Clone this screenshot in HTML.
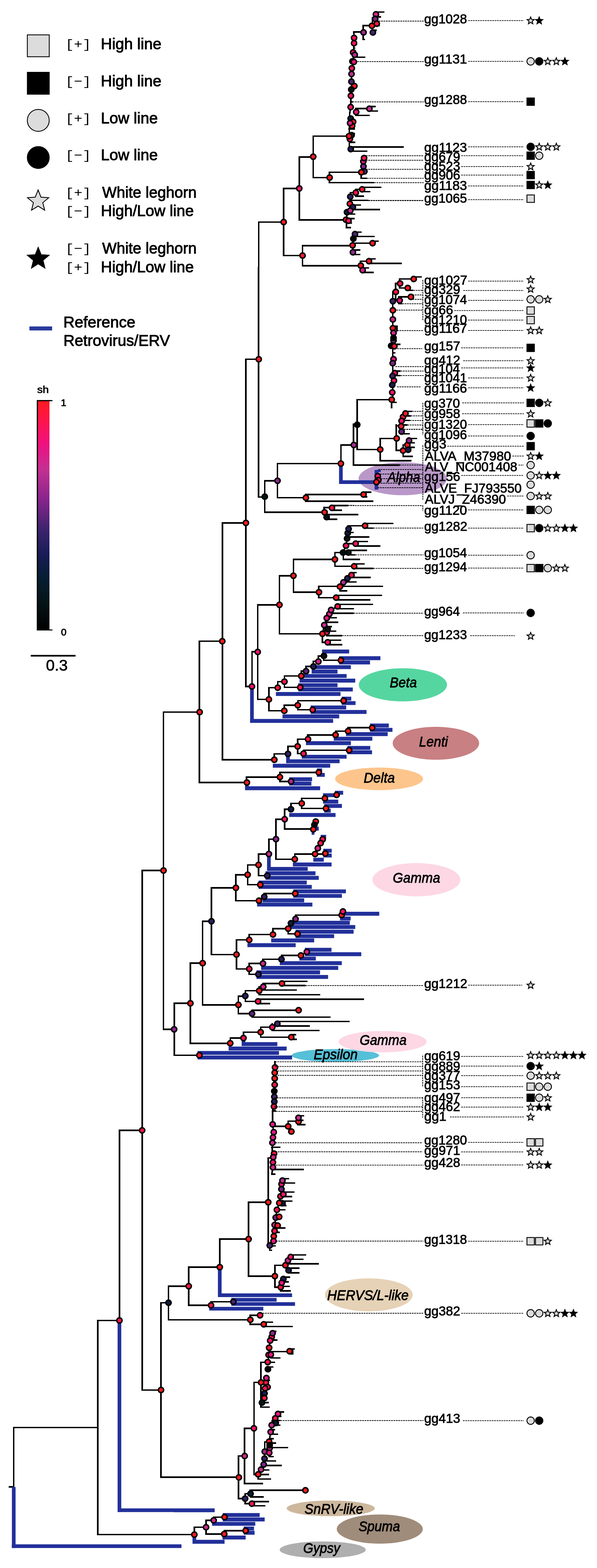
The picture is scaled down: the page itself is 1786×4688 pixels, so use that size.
<!DOCTYPE html>
<html lang="en"><head><meta charset="utf-8"><title>Phylogenetic tree</title>
<style>
html,body{margin:0;padding:0;background:#fff}
body{width:1786px;height:4688px;overflow:hidden}
svg{display:block}
text{font-family:"Liberation Sans",sans-serif;fill:#000}
.leg{font-size:45.8px;stroke:#000;stroke-width:1.4px;stroke-linejoin:round}
.big{font-size:46.5px;stroke:#000;stroke-width:1px;stroke-linejoin:round}
.mono{font-family:"Liberation Mono",monospace;font-size:37.5px}
.sm{font-size:29.5px;stroke:#000;stroke-width:1.2px;stroke-linejoin:round}
.lab{font-size:38.5px;stroke:#000;stroke-width:1.2px;stroke-linejoin:round}
.cl{font-size:43px;font-style:italic;stroke:#000;stroke-width:1.3px;stroke-linejoin:round}
</style></head><body>
<svg width="1786" height="4688" viewBox="0 0 1786 4688">
<defs><linearGradient id="sh" x1="0" y1="0" x2="0" y2="1">
<stop offset="0" stop-color="rgb(255,26,30)"/>
<stop offset="0.09" stop-color="rgb(255,20,75)"/>
<stop offset="0.19" stop-color="rgb(240,16,128)"/>
<stop offset="0.3" stop-color="rgb(196,48,146)"/>
<stop offset="0.44" stop-color="rgb(132,36,140)"/>
<stop offset="0.56" stop-color="rgb(62,36,110)"/>
<stop offset="0.67" stop-color="rgb(24,28,86)"/>
<stop offset="0.77" stop-color="rgb(6,30,52)"/>
<stop offset="0.88" stop-color="rgb(5,20,22)"/>
<stop offset="1" stop-color="rgb(0,0,0)"/>
</linearGradient></defs>
<rect width="1786" height="4688" fill="#fff"/>
<g id="legend">
<rect x="81.8" y="104.2" width="65.5" height="65.5" fill="#dcdcdc" stroke="#000" stroke-width="2.5"/>
<rect x="81.8" y="216.2" width="65.5" height="65.5" fill="#000" stroke="#000" stroke-width="2.5"/>
<circle cx="114.5" cy="360.0" r="32.8" fill="#dcdcdc" stroke="#000" stroke-width="2.5"/>
<circle cx="114.5" cy="471.0" r="32.8" fill="#000" stroke="#000" stroke-width="2.5"/>
<polygon points="114.0,568.0 122.6,589.5 145.8,591.1 128.0,605.9 133.6,628.4 114.0,616.1 94.4,628.4 100.0,605.9 82.2,591.1 105.4,589.5" fill="#dcdcdc" stroke="#000" stroke-width="2.5" stroke-linejoin="miter"/>
<polygon points="114.3,739.5 123.1,761.5 146.8,763.1 128.6,778.4 134.4,801.4 114.3,788.7 94.2,801.4 100.0,778.4 81.8,763.1 105.5,761.5" fill="#000" stroke="#000" stroke-width="2.5" stroke-linejoin="miter"/>
<text class="leg" transform="translate(301.6 147.3) scale(1.017 1)">High line</text>
<text class="leg" transform="translate(301.6 258.0) scale(1.017 1)">High line</text>
<text class="leg" transform="translate(301.7 368.6) scale(1.014 1)">Low line</text>
<text class="leg" transform="translate(301.7 479.2) scale(1.014 1)">Low line</text>
<text class="leg" transform="translate(305.7 591.1) scale(1.000 1)">White leghorn</text>
<text class="leg" transform="translate(301.7 646.0) scale(1.011 1)">High/Low line</text>
<text class="leg" transform="translate(305.7 758.0) scale(1.000 1)">White leghorn</text>
<text class="leg" transform="translate(301.7 813.6) scale(1.011 1)">High/Low line</text>
<text class="leg" transform="translate(189.6 979.2) scale(1.020 1)">Reference</text>
<text class="leg" transform="translate(189.7 1034.1) scale(1.013 1)">Retrovirus/ERV</text>
<text class="mono" transform="translate(195.4 144.3) scale(1.143 1)">[+]</text>
<text class="mono" transform="translate(195.4 255.0) scale(1.143 1)">[−]</text>
<text class="mono" transform="translate(195.4 365.6) scale(1.143 1)">[+]</text>
<text class="mono" transform="translate(195.4 476.2) scale(1.143 1)">[−]</text>
<text class="mono" transform="translate(195.4 588.1) scale(1.143 1)">[+]</text>
<text class="mono" transform="translate(195.4 643.0) scale(1.143 1)">[−]</text>
<text class="mono" transform="translate(195.4 755.0) scale(1.143 1)">[−]</text>
<text class="mono" transform="translate(195.4 810.6) scale(1.143 1)">[+]</text>
<text class="sm" transform="translate(111.3 1175.4) scale(1.113 1)">sh</text>
<text class="sm" transform="translate(182.1 1214.0) scale(1.000 1)">1</text>
<text class="sm" transform="translate(182.6 1900.0) scale(1.000 1)">0</text>
<text class="big" transform="translate(137.6 2004.8) scale(1.006 1)">0.3</text>
<rect x="88" y="976" width="68" height="12" fill="#2a3a9b"/>
<rect x="110" y="1196" width="38" height="689" fill="url(#sh)"/>
<rect x="110" y="1196" width="3.5" height="689" fill="#000"/>
<rect x="110" y="1196" width="47" height="3.5" fill="#000"/>
<rect x="110" y="1882" width="47" height="3" fill="#000"/>
<rect x="92" y="1958" width="134" height="5" fill="#000"/>
</g>
<g id="ell">
<ellipse cx="1204.7" cy="1431.3" rx="132.0" ry="49.3" fill="#b998c9" opacity="1"/>
<ellipse cx="1205.3" cy="2047.4" rx="132.0" ry="49.5" fill="#55d6a0" opacity="1"/>
<ellipse cx="1304.1" cy="2222.2" rx="129.4" ry="49.2" fill="#c88082" opacity="1"/>
<ellipse cx="1134.0" cy="2328.6" rx="131.6" ry="33.8" fill="#fdc58c" opacity="1"/>
<ellipse cx="1245.7" cy="2630.2" rx="131.6" ry="49.7" fill="#fdd7e4" opacity="1"/>
<ellipse cx="1003.2" cy="3155.6" rx="131.0" ry="19.0" fill="#55c0d8" opacity="1"/>
<ellipse cx="1144.6" cy="3114.4" rx="131.6" ry="32.0" fill="#fdd7e4" opacity="1"/>
<ellipse cx="1103.4" cy="3871.3" rx="131.3" ry="49.4" fill="#e6d2b6" opacity="1"/>
<ellipse cx="989.4" cy="4509.7" rx="131.8" ry="23.4" fill="#cdb79d" opacity="1"/>
<ellipse cx="1136.1" cy="4571.6" rx="128.7" ry="43.6" fill="#a08c7a" opacity="1"/>
<ellipse cx="965.4" cy="4633.5" rx="128.7" ry="25.0" fill="#afafaf" opacity="1"/>
</g>
<g id="tk" stroke="#000" stroke-width="4.5" stroke-linecap="square" fill="none" shape-rendering="crispEdges">
<path d="M1124.6 36.2L1147.5 36.2M1132 50.6L1137.3 50.6M1086.4 76.6L1110.5 76.6M1127.1 76.6L1133.8 76.6M1115.5 90.3L1124.5 90.3M1058 95.5L1085.3 95.5M1086.4 117.9L1089.3 117.9M1058 143.9L1061.2 143.9M1061.3 170.8L1090.8 170.8M1049.1 304.6L1052.7 304.6M1105.1 318.3L1121.5 318.3M1064.1 324.5L1102.8 324.5M1111.5 331.8L1129.2 331.8M1064.1 345L1104 345M1044.2 385.6L1059.8 385.6M1049.7 399.4L1059.8 399.4M980 407L1042 407M1046.7 425.4L1060.3 425.4M1049.4 439.4L1205.5 439.4M1053.4 452L1096.5 452M985.5 515L1078.7 515M1080.3 533L1095.5 533M985.5 546.2L1116.8 546.2M1085.5 559.9L1138.3 559.9M1085.5 572.8L1105.5 572.8M1064.4 586.5L1086.3 586.5M1047.9 599.1L1100 599.1M1064.4 566.1L1081.2 566.1M1047.9 576.1L1062.2 576.1M937 407L997.8 407M937 530.8L983.4 530.8M895.3 469.5L934.8 469.5M895.3 657.4L997.8 657.4M848.6 563.4L893 563.4M773.9 663.9L846.4 663.9M848.6 764.1L902.9 764.1M905.1 734.7L997.8 734.7M905.1 794.4L997.8 794.4M1064.4 586.5L1086.3 586.5M1047.9 599.1L1099.5 599.1M1056.5 613L1077.5 613M1053.4 626.5L1134.3 626.5M1041.2 640.2L1061 640.2M1045.7 653.4L1059 653.4M980 657.4L1032.8 657.4M1041.2 666.9L1051.2 666.9M1036.6 680.3L1048 680.3M1062 693.8L1080.2 693.8M1062 707.2L1118.5 707.2M1114.6 721L1131.2 721M1057.1 727.1L1112.3 727.1M980 734.7L1052.7 734.7M1059.5 747.6L1076.2 747.6M1059.5 761L1076.2 761M1103.9 774.2L1121.5 774.2M1078.5 780.9L1101.7 780.9M1108.4 787.3L1199.5 787.3M980 794.4L1077.2 794.4M1084 800.8L1101.7 800.8M1088.6 814.6L1115.3 814.6M1237.7 827.8L1260.2 827.8M1195.6 834.2L1235.5 834.2M1195.6 861L1217.7 861M1183.4 847.7L1194.7 847.7M1223.7 868.1L1234.2 868.1M1174.8 872.7L1182 872.7M1193.1 887.7L1227 887.7M1193.1 908.1L1201 908.1M1182.9 1029.7L1195.5 1029.7M1174.8 1055.2L1180.7 1055.2M1174.8 975.1L1185.8 975.1M1174.8 1055.2L1180.7 1055.2M1188 1109.3L1196 1109.3M1188 1122.8L1196 1122.8M1068.7 1194.9L1169.7 1194.9M1176.5 1203.1L1184.5 1203.1M1217.3 1229.9L1230.3 1229.9M1213.5 1243.4L1226.5 1243.4M1208.4 1257.1L1224 1257.1M1205.8 1270.6L1216.3 1270.6M1057.5 1268.1L1066.5 1268.1M1185.5 1273.2L1197.8 1273.2M1205.8 1296.8L1223.5 1296.8M1137.5 1310.8L1184.5 1310.8M1228.8 1310.8L1245.7 1310.8M1223.7 1324L1238.8 1324M1030 1330.4L1056.2 1330.4M1226.2 1337.5L1238.8 1337.5M1068.7 1343.9L1135.2 1343.9M1185.5 1346.5L1203.5 1346.5M1205.8 1364.3L1232.8 1364.3M1137.5 1377.5L1228.5 1377.5M1057.5 1390.3L1193.3 1390.3M1087.6 1471.3L1109.2 1471.3M1030 1478.5L1085.3 1478.5M1091.2 1485.3L1097 1485.3M1030 1498.3L1114.3 1498.3M1030 1511.6L1038 1511.6M1019.8 1330.4L1055.8 1330.4M830.2 1386L1017.5 1386M792.1 1437.3L828 1437.3M773.7 1485.8L789.9 1485.8M830.2 1488.2L912.9 1488.2M914.1 1478.5L1057.8 1478.5M914.1 1498.3L1057.8 1498.3M993.1 1511.6L1038.3 1511.6M969.6 1517.7L990.9 1517.7M997.3 1525.7L1021 1525.7M792.1 1531.6L968.8 1531.6M976.5 1538.5L1069.5 1538.5M980 1552.4L1007.1 1552.4M1092.1 1565.2L1174.3 1565.2M1041.4 1571.8L1089.8 1571.8M1092.1 1578.8L1114.7 1578.8M1043.3 1592L1055.8 1592M1038.3 1605.5L1103 1605.5M1063.9 1619.1L1098.5 1619.1M1035.2 1625.3L1061.7 1625.3M1066.6 1632.3L1136 1632.3M1042.2 1645.4L1095.3 1645.4M1001.9 1652L1040 1652M1047.2 1659L1060.5 1659M900 1672.5L999.6 1672.5M1027.1 1672.5L1075.2 1672.5M1059.6 1686.1L1088.3 1686.1M1001.9 1693.1L1057.3 1693.1M1062.7 1699.3L1114.7 1699.3M1051.5 1712.1L1064.3 1712.1M1045.3 1726.4L1107 1726.4M1031.7 1739.9L1064.3 1739.9M953.5 1753.1L1143.3 1753.1M1017 1766.3L1037.2 1766.3M900 1770.5L952 1770.5M1005.7 1779.8L1141 1779.8M953.5 1786.8L1003.5 1786.8M1005.7 1793.4L1106.2 1793.4M1010 1807L1113.8 1807M1014.3 1820.1L1056.5 1820.1M993 1833.3L1055.8 1833.3M977.5 1847.2L1006.2 1847.2M973.6 1860.4L1010 1860.4M977.5 1873.6L990.8 1873.6M983.3 1887.1L1003.1 1887.1M900 1894.9L962.5 1894.9M977.5 1900.3L1021 1900.3M665.7 1563.5L733.5 1563.5M836 1721.3L875.5 1721.3M771 1808.3L833.8 1808.3M596.7 1917.2L662.8 1917.2M753.8 1948.4L768.8 1948.4M877.8 1672.5L917.8 1672.5M877.8 1770.5L917.8 1770.5M836 1894.9L917.8 1894.9M987.3 1887.1L1003.6 1887.1M836 1894.9L962.5 1894.9M987.3 1914.1L1019.1 1914.1M987.3 1927.3L1022.2 1927.3M753.8 1948.4L768.9 1948.4M952.4 1961.3L966.9 1961.3M967.9 1974.1L1017.5 1974.1M937.7 1976.8L950.1 1976.8M915.6 1992.7L935.5 1992.7M901.3 2006.7L913.4 2006.7M850.9 2021L899 2021M830.8 2038L848.6 2038M850.9 2055.1L896 2055.1M804.4 2056.2L828.5 2056.2M771 2091.1L802.1 2091.1M890.8 2095L1025.7 2095M850.5 2108.5L888.5 2108.5M890.8 2122.1L933.1 2122.1M804.4 2125.2L848.2 2125.2M735.6 2052.4L751.5 2052.4M964.7 1920.3L978 1920.3M1041.3 2175.7L1111.2 2175.7M1003.8 2185.9L1039 2185.9M920.2 2197.3L1001.5 2197.3M890.4 2209.9L919.1 2209.9M861.5 2231.5L888.1 2231.5M908 2243L1042.2 2243M890.4 2253.2L905.8 2253.2M820.7 2254L859.2 2254M700 2271.5L818.5 2271.5M837.4 2309.4L951.4 2309.4M737.5 2323.3L835.1 2323.3M837.4 2336.3L868.5 2336.3M700 2339.6L736.5 2339.6M902.7 2386.9L969.8 2386.9M870.4 2402L900.5 2402M902.7 2417.1L973 2417.1M851.7 2419.5L868.1 2419.5M488.9 2129L595 2129M665.7 2271.5L698.8 2271.5M596.7 2339.6L736.2 2339.6M825.6 2449.3L849.5 2449.3M851.7 2478.7L935 2478.7M804.4 2508.9L823.4 2508.9M773.4 2553.3L802.1 2553.3M881.9 2553.3L971 2553.3M825.6 2568.8L879.6 2568.8M740.8 2585.9L771.1 2585.9M705.7 2615.3L738.5 2615.3M773.4 2618.1L797.2 2618.1M740.8 2645.1L776.5 2645.1M790.5 2671.6L880.9 2671.6M705.7 2692.8L772.4 2692.8M884.1 2735.8L1019.9 2735.8M816.6 2776.5L859.9 2776.5M862.1 2792.1L887.8 2792.1M745.6 2794.1L814.4 2794.1M707.5 2810.2L743.4 2810.2M660 2853.8L705.2 2853.8M842 2856.7L898 2856.7M786.7 2868L839.8 2868M745.6 2880.7L784.5 2880.7M707.5 2896.8L743.4 2896.8M745.6 2913L770.8 2913M843.5 2934L918 2934M850.8 2946.7L912.1 2946.7M787.7 2940.4L841.2 2940.4M425.4 2602.7L486.9 2602.7M632.6 2654.6L703.4 2654.6M606.2 2754.4L630.4 2754.4M632.6 2853.8L705.6 2853.8M569.6 2879.7L604 2879.7M521.3 2999.7L567.4 2999.7M606.2 3004.3L711 3004.3M713.2 2978.5L717.8 2978.5M713.2 3030.4L717.8 3030.4M775.4 2960.1L886.1 2960.1M733.8 2962.1L773.1 2962.1M775.4 2973.8L956.1 2973.8M713.2 2978.5L731.5 2978.5M772 2987.5L1086.3 2987.5M733.8 2993.9L769.8 2993.9M772 3000.7L806 3000.7M753.9 3020.3L891 3020.3M713.2 3030.4L751.6 3030.4M753.9 3040.9L987 3040.9M829.7 3054.1L1044.2 3054.1M821.9 3067.3L924.9 3067.3M779.8 3071.2L812.4 3071.2M814.6 3081L954.2 3081M728.4 3085.9L777.5 3085.9M871.3 3093.7L884.2 3093.7M779.8 3101L869 3101M871.3 3107.4L886.1 3107.4M688.8 3103.5L726.1 3103.5M898.2 3335.9L907.5 3335.9M898.2 3349.4L906 3349.4M891.5 3362.5L912.1 3362.5M862.1 3351.8L890.8 3351.8M815.7 3367.7L859.9 3367.7M815 3429.8L836.6 3429.8M815.7 3321.3L823.5 3321.3M816.5 3496.7L906.4 3496.7M813.1 3510.4L822.2 3510.4M845 3524.2L862.9 3524.2M845 3537L881.2 3537M847.7 3563.9L879 3563.9M843.7 3577.4L872 3577.4M843.7 3590.9L873.2 3590.9M843.7 3604.3L854.4 3604.3M828.4 3617.2L852.1 3617.2M830.6 3671.6L852.1 3671.6M821.4 3684.4L834.5 3684.4M743.7 3594.5L800.1 3594.5M700 3704.6L741.5 3704.6M807 3725.1L823.1 3725.1M802.4 3462.1L815.1 3462.1M807 3725.1L823.1 3725.1M807 3738.2L811.5 3738.2M869.7 3752L913.4 3752M865.1 3765.1L905.8 3765.1M853.8 3778.6L952.1 3778.6M822.3 3782.9L851.5 3782.9M863.3 3791.7L893.5 3791.7M863.3 3805.5L893.5 3805.5M743.7 3815.3L820 3815.3M847.7 3818.7L865.4 3818.7M842.8 3832.4L862.2 3832.4M839.8 3845.9L864.5 3845.9M822.3 3848.3L837.5 3848.3M839.1 3859.6L867.5 3859.6M748.3 3932.4L775.8 3932.4M700 3945.9L746.6 3945.9M789 3952.9L814.5 3952.9M748.3 3959.3L786.8 3959.3M789 3966.1L873.5 3966.1M488.9 3077.5L518.6 3077.5M569.6 3119.3L686.4 3119.3M521.3 3154.9L594.1 3154.9M357.4 3379.6L422.9 3379.6M657.4 3704.6L727.8 3704.6M564.5 3788.5L655.1 3788.5M504.1 3845.5L562.2 3845.5M631.3 3892L696 3892M481.7 3894.9L501.9 3894.9M564.5 3902.6L629 3902.6M504.1 3945.9L747.8 3945.9M292.3 3947.9L355.1 3947.9M425.4 4155.8L479.4 4155.8M41.1 4268.2L290.1 4268.2M481.7 4416.6L640 4416.6M292.3 4587.8L557.8 4587.8M28.5 4445.7L38.9 4445.7M815.5 3980.6L825 3980.6M811.3 4006.6L827.4 4006.6M866.3 4033.2L879.4 4033.2M866.3 4047.9L873.9 4047.9M807.6 4040.8L864 4040.8M810.3 4060.1L837.1 4060.1M780.7 4072.9L798.6 4072.9M805.1 4072.9L821.2 4072.9M802.1 4087L816 4087M799 4126.8L806 4126.8M759.9 4133.2L778.8 4133.2M783.7 4193.7L801.4 4193.7M780.7 4206.9L804.5 4206.9M831.7 4221.3L848.1 4221.3M829.6 4234.4L840.1 4234.4M814.3 4247.2L836.5 4247.2M823.5 4247.2L836.5 4247.2M826.5 4261.2L837.1 4261.2M812.8 4274.3L821.2 4274.3M809.7 4288.1L829.5 4288.1M806.7 4301.3L817.2 4301.3M806.7 4314.7L824.2 4314.7M808.2 4327.9L859.5 4327.9M805.4 4354.8L817.2 4354.8M792.9 4368.2L823.4 4368.2M789.8 4381.7L840.5 4381.7M782.2 4395.1L803.5 4395.1M774.6 4408.6L802.9 4408.6M772.4 4422L809 4422M731.7 4270.4L757.4 4270.4M713.4 4353.2L729.8 4353.2M559.9 4416.6L712.4 4416.6M731.7 4435.5L784.5 4435.5M748.6 4455.7L911.5 4455.7M733.3 4465.8L747.2 4465.8M750.1 4475.6L786.4 4475.6M713.4 4480.5L731 4480.5M753.5 4489.3L802.9 4489.3M733.3 4495.7L751.2 4495.7M753.5 4502.2L791.5 4502.2M792 4311L802.9 4311M759.9 4408.6L770.1 4408.6M639.2 4535.9L669.5 4535.9M616.4 4545.6L637 4545.6M581.4 4566.1L614.1 4566.1M670.8 4576.5L732.6 4576.5M616.4 4586.5L668.5 4586.5M520 4587.8L579.1 4587.8M735.6 1074.1L771.9 1074.1M1132 36.2L1132 50.6M1113.9 53.6L1113.9 76.6M1086.4 76.6L1086.4 117.9M1111.5 318.3L1111.5 331.8M1064.1 324.5L1064.1 345M985.5 515L985.5 546.2M1080.3 515L1080.3 533M1085.5 559.9L1085.5 572.8M1064.4 566.1L1064.4 586.5M1047.9 576.1L1047.9 599.1M937 407L937 530.8M895.3 469.5L895.3 657.4M848.6 563.4L848.6 764.1M773.9 663.9L773.9 820.2M905.1 734.7L905.1 794.4M1078.5 780.9L1078.5 794.4M1195.6 834.2L1195.6 861M1183.4 847.7L1183.4 896.6M1174.8 872.7L1174.8 1060M1193.1 887.7L1193.1 898.4M1187.5 975.1L1187.5 988.4M1174.8 1040L1174.8 1194.9M1171.4 1194.9L1171.4 1218.4M1068.7 1194.9L1068.7 1290M1057.5 1268.1L1057.5 1290M1185.5 1273.2L1185.5 1290M1057.5 1268.1L1057.5 1390.3M1068.7 1268.1L1068.7 1343.9M1185.5 1270L1185.5 1346.5M1137.5 1310.8L1137.5 1377.5M1205.8 1330.4L1205.8 1364.3M735.6 1230L735.6 1563.5M773.7 1230L773.7 1485.8M792.1 1437.3L792.1 1531.6M830.2 1386L830.2 1488.2M1019.8 1330.4L1019.8 1386M914.1 1478.5L914.1 1498.3M969.6 1517.7L969.6 1531.6M976.5 1531.6L976.5 1552.4M1001.9 1652L1001.9 1693.1M1027.1 1652L1027.1 1672.5M953.5 1753.1L953.5 1786.8M1041.4 1571.8L1041.4 1581.5M964.7 1894.9L964.7 1910M735.6 1500L735.6 1999.8M665.7 1563.5L665.7 1999.8M877.8 1672.5L877.8 1770.5M836 1721.3L836 1894.9M771 1808.3L771 1999.8M596.7 1917.2L596.7 1999.8M753.8 1948.4L753.8 1999.8M735.6 1880L735.6 2052.4M771 1880L771 2091.1M753.8 1948.4L753.8 2052.4M836 1880L836 1894.9M964.7 1894.9L964.7 1920.3M987.3 1914.1L987.3 1927.3M967.9 1961.3L967.9 1974.1M952.4 1961.3L952.4 1976.8M937.7 1976.8L937.7 1992.7M915.6 1992.7L915.6 2006.7M901.3 2006.7L901.3 2021M850.9 2021L850.9 2055.1M830.8 2038L830.8 2056.2M804.4 2056.2L804.4 2125.2M890.8 2095L890.8 2122.1M850.5 2108.5L850.5 2125.2M1041.3 2175.7L1041.3 2185.9M1003.8 2185.9L1003.8 2197.3M920.2 2197.3L920.2 2209.9M890.4 2209.9L890.4 2253.2M861.5 2231.5L861.5 2254M820.7 2254L820.7 2271.5M837.4 2309.4L837.4 2336.3M737.5 2323.3L737.5 2339.6M902.7 2386.9L902.7 2417.1M870.4 2402L870.4 2419.5M665.7 1900L665.7 2271.5M596.7 1917.2L596.7 2339.6M488.9 2129L488.9 2400.1M851.7 2419.5L851.7 2478.7M825.6 2449.3L825.6 2568.8M804.4 2508.9L804.4 2553.3M773.4 2553.3L773.4 2618.1M740.8 2585.9L740.8 2645.1M705.7 2615.3L705.7 2692.8M881.9 2553.3L881.9 2568.8M790.5 2671.6L790.5 2681.3M884.1 2735.8L884.1 2747.6M862.1 2776.5L862.1 2792.1M816.6 2776.5L816.6 2794.1M745.6 2794.1L745.6 2810.2M707.5 2810.2L707.5 2896.8M745.6 2880.7L745.6 2913M786.7 2868L786.7 2880.7M842 2856.7L842 2868M787.7 2940.4L787.7 2950.2M488.9 2396.9L488.9 3060.1M425.4 2602.7L425.4 3060.1M632.6 2654.6L632.6 2853.8M606.2 2754.4L606.2 3004.3M569.6 2879.7L569.6 3060.1M521.3 2999.7L521.3 3060.1M713.2 2978.5L713.2 3030.4M775.4 2950.3L775.4 2973.8M733.8 2962.1L733.8 2993.9M713.2 2978.5L713.2 3030.4M753.9 3020.3L753.9 3040.9M772 2987.5L772 3000.7M779.8 3071.2L779.8 3101M814.6 3060.9L814.6 3081M728.4 3085.9L728.4 3103.5M688.8 3103.5L688.8 3119.3M875.7 3093.7L875.7 3107.4M822.7 3174.5L822.7 3191.3M862.1 3351.8L862.1 3367.7M898.2 3335.9L898.2 3362.5M802.4 3462.1L802.4 3730M743.7 3594.5L743.7 3730M852.9 3590.9L852.9 3604.3M743.7 3704.6L743.7 3815.3M822.3 3782.9L822.3 3848.3M748.3 3932.4L748.3 3959.3M807 3725.1L807 3738.2M425.4 3000L425.4 3379.6M488.9 3000L488.9 3077.5M521.3 2999.7L521.3 3154.9M569.6 2999.7L569.6 3119.3M688.8 3103.5L688.8 3119.3M357.4 3379.6L357.4 3947.9M425.4 3379.6L425.4 4155.8M657.4 3704.6L657.4 3788.5M564.5 3788.5L564.5 3902.6M504.1 3845.5L504.1 3945.9M481.7 3894.9L481.7 4179.9M292.3 3947.9L292.3 4587.8M41.1 4268.2L41.1 4445.7M481.7 4155.8L481.7 4416.6M780.7 4072.9L780.7 4206.9M759.9 4133.2L759.9 4250M875.5 4033.2L875.5 4047.9M759.9 4230L759.9 4408.6M731.7 4270.4L731.7 4435.5M713.4 4353.2L713.4 4480.5M733.3 4465.8L733.3 4495.7M748.6 4455.7L748.6 4465.8M792 4311L792 4340.1M639.2 4535.9L639.2 4545.6M616.4 4545.6L616.4 4586.5M581.4 4566.1L581.4 4587.8M670.8 4576.5L670.8 4586.5M773.7 800L773.7 1249.9M735.6 1074.1L735.6 1249.9M1058.6 95.5L1059.2 113.3M1059.2 113.3L1059.2 129.2M1059.2 129.2L1057.1 156.7M1057.1 156.7L1057.7 185.1M1057.7 185.1L1052.5 204.1M1052.5 204.1L1051.6 221.2M1051.6 221.2L1051.3 244.2M1051.3 244.2L1050.9 267.7M1050.9 267.7L1049.7 286.4M1049.7 286.4L1049.1 320M1049.1 300L1049.1 320.2M1049.1 320.2L1046.1 339.8M1046.1 339.8L1044.8 407M1044.8 407L1044.8 439.4M1044.8 439.4L1049.4 445.9M1089.2 472.5L1087 482.6M1087 482.6L1087.3 497.6M1087.3 497.6L1080.9 515M1047.9 588L1046.7 609.1M1046.7 609.1L1045.7 629.8M1045.7 629.8L1038.1 634.4M1038.1 634.4L1036.6 657.1M1036.6 657.1L1036.6 680.3M1062 699.9L1057.1 713.6M1057.1 713.6L1054.9 733.5M1054.9 733.5L1055.8 754.3M1079.4 794.1L1084.9 807.8M1213 1236.2L1205.8 1246.4M1205.8 1246.4L1201.3 1258.4M1201.3 1258.4L1200 1274.5M1200 1274.5L1201.3 1288.5M1042.9 1581.5L1040.2 1593.9M1040.2 1593.9L1038.3 1610.2M1038.3 1610.2L1035.2 1631.5M1035.2 1631.5L1026.3 1652M1051.5 1719.4L1039.4 1729.1M1039.4 1729.1L1027.4 1741.1M1027.4 1741.1L1017 1753.9M1010 1813.2L990.6 1823.6M990.6 1823.6L985.2 1836M985.2 1836L977.5 1848M977.5 1848L970.1 1868.9M970.1 1868.9L964.7 1894.9M965.4 2509.3L959.3 2520.7M959.3 2520.7L950.8 2536.2M950.8 2536.2L942.6 2553.3M944.6 2456.3L940.6 2466.1M940.6 2466.1L937.3 2479.5M884.1 2747.6L870.4 2760.3M870.4 2760.3L862.1 2776.5M900.2 2856.7L917.9 2845.9M822.7 3191.3L821.8 3207.2M821.8 3207.2L821.8 3243.3M821.8 3243.3L820.6 3262.5M820.6 3262.5L820.6 3293.7M820.6 3293.7L818.1 3308.4M818.1 3308.4L815.7 3321.3M815.7 3321.3L815.7 3361.6M815.7 3361.6L818.1 3384.9M818.1 3384.9L816.6 3400.8M816.6 3400.8L815 3416.7M815 3416.7L814.4 3450M862.1 3367.7L871.6 3383M813.1 3430L817.4 3449M817.4 3449L816.5 3490.2M816.5 3490.2L813.1 3510.4M845 3529.7L841.9 3555.4M841.9 3555.4L839.1 3576.8M839.1 3576.8L835.5 3596.7M835.5 3596.7L828.4 3617.2M828.4 3617.2L824.8 3640.4M824.8 3640.4L821.7 3662.4M821.7 3662.4L821.4 3680.2M821.4 3680.2L819 3696.1M819 3696.1L818.3 3710.7M818.3 3710.7L807 3723.6M869.7 3758.1L861.5 3768.8M861.5 3768.8L853.8 3782.9M853.8 3782.9L863.3 3798.2M847.7 3823.9L842.8 3835.2M842.8 3835.2L839.8 3848.3M839.8 3848.3L839.1 3859.6M815.5 3986.1L812.8 3997.4M812.8 3997.4L808.2 4008.1M808.2 4008.1L805.1 4029.5M805.1 4029.5L805.1 4050.9M805.1 4050.9L800.9 4072.3M796.9 4120L795.4 4133.5M795.4 4133.5L792.9 4150.9M792.9 4150.9L791.4 4165.9M791.4 4165.9L790.8 4180M790.8 4180L783.7 4193.7M831.7 4227.4L823.5 4240.5M823.5 4240.5L814.3 4250M823.5 4240.7L812.8 4260.9M812.8 4260.9L809.7 4281.4M809.7 4281.4L806.7 4301.3M806.7 4301.3L805.1 4310.1M805.1 4310.1L806.7 4329.4M806.7 4329.4L805.4 4343.5M805.4 4343.5L805.4 4354.8M792 4340.1L791.4 4360.9M791.4 4360.9L788.9 4378.6M788.9 4378.6L781 4393.6M781 4393.6L772.4 4408M772.4 4408L772.4 4422"/>
</g>
<g id="tb" stroke="#22309a" stroke-linecap="butt" fill="none">
<path d="M1126.1 1408.1L1139.1 1408.1" stroke-width="7"/>
<path d="M1126.1 1405.1L1126.1 1463.8" stroke-width="11"/>
<path d="M1019.8 1441.4L1126.1 1441.4" stroke-width="11"/>
<path d="M1019.8 1386L1019.8 1446.9" stroke-width="11"/>
<path d="M963.3 1947.8L1044.6 1947.8" stroke-width="11.7"/>
<path d="M1014.4 1967.9L1138 1967.9" stroke-width="11.7"/>
<path d="M1014.4 1980.7L1107 1980.7" stroke-width="11.7"/>
<path d="M938.9 1994.7L1049.6 1994.7" stroke-width="11.7"/>
<path d="M932.3 2007.8L1009.7 2007.8" stroke-width="11.7"/>
<path d="M902.1 2021L1036.9 2021" stroke-width="11.7"/>
<path d="M896.2 2034.9L1062.8 2034.9" stroke-width="11.7"/>
<path d="M892.4 2048.5L1009.7 2048.5" stroke-width="11.7"/>
<path d="M892.4 2061.3L1055.5 2061.3" stroke-width="11.7"/>
<path d="M825.4 2074.8L1018.7 2074.8" stroke-width="11.7"/>
<path d="M1022.1 2088.8L1050.8 2088.8" stroke-width="11.7"/>
<path d="M1022.1 2102L1063.6 2102" stroke-width="11.7"/>
<path d="M929.2 2115.1L1035.7 2115.1" stroke-width="11.7"/>
<path d="M929.2 2128.7L1096.5 2128.7" stroke-width="11.7"/>
<path d="M845.1 2141.9L1014.8 2141.9" stroke-width="11.7"/>
<path d="M748.3 2155.4L996.6 2155.4" stroke-width="11.7"/>
<path d="M753.7 2052.4L753.7 2160.9" stroke-width="11"/>
<path d="M1106.8 2169.1L1163.1 2169.1" stroke-width="11.7"/>
<path d="M1106.8 2182.2L1174.1 2182.2" stroke-width="11.7"/>
<path d="M1035.1 2194.8L1159.8 2194.8" stroke-width="11.7"/>
<path d="M998.5 2208.7L1113.9 2208.7" stroke-width="11.7"/>
<path d="M915.3 2221.8L1049.8 2221.8" stroke-width="11.7"/>
<path d="M1039.2 2236L1107.7 2236" stroke-width="11.7"/>
<path d="M1039.2 2249.1L1113 2249.1" stroke-width="11.7"/>
<path d="M902.7 2262.5L1036.8 2262.5" stroke-width="11.7"/>
<path d="M856.2 2276L1016 2276" stroke-width="11.7"/>
<path d="M816.2 2289.4L987.9 2289.4" stroke-width="11.7"/>
<path d="M947.9 2303.3L963.8 2303.3" stroke-width="11.7"/>
<path d="M947.9 2316.8L971.6 2316.8" stroke-width="11.7"/>
<path d="M865.1 2329.8L933.6 2329.8" stroke-width="11.7"/>
<path d="M865.1 2342.9L931.6 2342.9" stroke-width="11.7"/>
<path d="M733.4 2356.7L957.7 2356.7" stroke-width="11.7"/>
<path d="M1001.7 2370.2L1026.6 2370.2" stroke-width="11.7"/>
<path d="M966.3 2377.5L1003.8 2377.5" stroke-width="11.7"/>
<path d="M966.3 2396.7L1011.9 2396.7" stroke-width="11.7"/>
<path d="M969.9 2409.7L1022.9 2409.7" stroke-width="11.7"/>
<path d="M969.9 2423.6L989.5 2423.6" stroke-width="11.7"/>
<path d="M865.1 2436.6L1003.8 2436.6" stroke-width="11.7"/>
<path d="M861.5 2254L861.5 2281.5" stroke-width="11"/>
<path d="M738.5 2340.4L738.5 2362.2" stroke-width="11"/>
<path d="M942.6 2477.5L953.6 2477.5" stroke-width="11.7"/>
<path d="M932.4 2491.7L940.6 2491.7" stroke-width="8"/>
<path d="M959.3 2501.9L975.6 2501.9" stroke-width="11.7"/>
<path d="M967.1 2543.5L992.4 2543.5" stroke-width="11.7"/>
<path d="M967.1 2557.8L992.4 2557.8" stroke-width="11.7"/>
<path d="M937.3 2570.4L968.7 2570.4" stroke-width="11.7"/>
<path d="M876.1 2584.7L991.9 2584.7" stroke-width="11.7"/>
<path d="M799.1 2597.8L920.6 2597.8" stroke-width="11.7"/>
<path d="M794.2 2610.8L943.8 2610.8" stroke-width="11.7"/>
<path d="M794.2 2624.7L953.6 2624.7" stroke-width="11.7"/>
<path d="M773.4 2638.5L917.7 2638.5" stroke-width="11.7"/>
<path d="M773.4 2651.6L932.8 2651.6" stroke-width="11.7"/>
<path d="M877.4 2665L1034.8 2665" stroke-width="11.7"/>
<path d="M877.4 2678.5L1022.9 2678.5" stroke-width="11.7"/>
<path d="M785.6 2691.9L910 2691.9" stroke-width="11.7"/>
<path d="M804.4 2553.3L804.4 2603.3" stroke-width="11"/>
<path d="M769.1 2704.5L934.5 2704.5" stroke-width="11.7"/>
<path d="M1029.4 2731.9L1134.6 2731.9" stroke-width="11.7"/>
<path d="M1017.2 2746.1L1049 2746.1" stroke-width="11.7"/>
<path d="M875.3 2758.8L1046.5 2758.8" stroke-width="11.7"/>
<path d="M865.5 2771.6L1062.7 2771.6" stroke-width="11.7"/>
<path d="M884.1 2785.7L1057.8 2785.7" stroke-width="11.7"/>
<path d="M884.1 2799L999.6 2799" stroke-width="11.7"/>
<path d="M811.2 2811.7L939.9 2811.7" stroke-width="11.7"/>
<path d="M740.2 2825.9L884.6 2825.9" stroke-width="11.7"/>
<path d="M912 2839.6L991.7 2839.6" stroke-width="11.7"/>
<path d="M912 2852.8L1080.8 2852.8" stroke-width="11.7"/>
<path d="M895.4 2866L944.8 2866" stroke-width="11.7"/>
<path d="M837.1 2879.7L1022.6 2879.7" stroke-width="11.7"/>
<path d="M781.3 2893.9L1011.8 2893.9" stroke-width="11.7"/>
<path d="M767.2 2907.1L957.5 2907.1" stroke-width="11.7"/>
<path d="M767.2 2920.8L981.5 2920.8" stroke-width="11.7"/>
<path d="M723.1 3121.6L829.7 3121.6" stroke-width="11.7"/>
<path d="M683.9 3134.8L857.6 3134.8" stroke-width="11.7"/>
<path d="M590.9 3148L834.6 3148" stroke-width="11.7"/>
<path d="M590.9 3161.7L873.8 3161.7" stroke-width="11.7"/>
<path d="M728.4 3103.5L728.4 3127.1" stroke-width="11"/>
<path d="M652 3872.5L873.7 3872.5" stroke-width="11"/>
<path d="M692 3885.9L827.5 3885.9" stroke-width="11"/>
<path d="M692 3898.8L882.6 3898.8" stroke-width="11"/>
<path d="M625.7 3912.8L787.8 3912.8" stroke-width="11"/>
<path d="M657.4 3788.5L657.4 3877.1" stroke-width="11"/>
<path d="M357.3 3947.9L357.3 4520.6" stroke-width="11"/>
<path d="M352.8 4515.3L642.2 4515.3" stroke-width="11"/>
<path d="M35.4 4622.7L542.9 4622.7" stroke-width="11"/>
<path d="M41.1 4445.7L41.1 4628.2" stroke-width="11"/>
<path d="M520 4515.8L642 4515.8" stroke-width="11"/>
<path d="M666.3 4529.7L776.8 4529.7" stroke-width="11.7"/>
<path d="M666.3 4542.8L791.8 4542.8" stroke-width="11.7"/>
<path d="M634.4 4556L763.7 4556" stroke-width="11.7"/>
<path d="M729 4569.9L759.9 4569.9" stroke-width="11.7"/>
<path d="M729 4582.7L761.6 4582.7" stroke-width="11.7"/>
<path d="M665.6 4596.9L734.9 4596.9" stroke-width="11.7"/>
<path d="M576.2 4609.7L671.8 4609.7" stroke-width="11.7"/>
<path d="M581.4 4588.2L581.4 4615.2" stroke-width="11"/>
</g>
<g id="nd" stroke="#000" stroke-width="4.4">
<circle cx="1124.6" cy="42.9" r="7.9" fill="#d8218a"/>
<circle cx="1122.5" cy="56.7" r="7.9" fill="#7e248a"/>
<circle cx="1127.1" cy="70.8" r="7.9" fill="#ff1737"/>
<circle cx="1112.7" cy="77.2" r="7.9" fill="#ff1a1e"/>
<circle cx="1115.5" cy="97.1" r="7.9" fill="#442470"/>
<circle cx="1087.6" cy="96.8" r="7.9" fill="#9f298f"/>
<circle cx="1059.2" cy="113.3" r="7.9" fill="#fa135b"/>
<circle cx="1059.2" cy="129.2" r="7.9" fill="#fa135b"/>
<circle cx="1056.5" cy="156.7" r="7.9" fill="#fe1450"/>
<circle cx="1061.3" cy="164" r="7.9" fill="#ad2c90"/>
<circle cx="1054.3" cy="183.3" r="7.9" fill="#000000"/>
<circle cx="1058.6" cy="185.1" r="7.9" fill="#f2107b"/>
<circle cx="1052.5" cy="204.1" r="7.9" fill="#fa135b"/>
<circle cx="1051.6" cy="221.2" r="7.9" fill="#bb2e91"/>
<circle cx="1051.3" cy="244.2" r="7.9" fill="#502476"/>
<circle cx="1060.1" cy="257.3" r="7.9" fill="#ff182d"/>
<circle cx="1050.9" cy="267.7" r="7.9" fill="#041112"/>
<circle cx="1049.7" cy="286.4" r="7.9" fill="#fa135b"/>
<circle cx="1049.1" cy="320.2" r="7.9" fill="#f6126b"/>
<circle cx="1105.1" cy="325.1" r="7.9" fill="#c43092"/>
<circle cx="1065.6" cy="334.9" r="7.9" fill="#e41985"/>
<circle cx="1049.1" cy="354.4" r="7.9" fill="#0a1e3b"/>
<circle cx="1056.5" cy="364.2" r="7.9" fill="#ff1737"/>
<circle cx="1053.4" cy="376.5" r="7.9" fill="#ff1737"/>
<circle cx="1047.3" cy="367.9" r="7.9" fill="#d8218a"/>
<circle cx="1051.9" cy="404" r="7.9" fill="#061b2c"/>
<circle cx="1046.7" cy="415.6" r="7.9" fill="#fe1450"/>
<circle cx="1044.2" cy="407" r="7.9" fill="#ff1a1e"/>
<circle cx="1049.4" cy="445.9" r="7.9" fill="#1f1d5a"/>
<circle cx="1087" cy="482.6" r="7.9" fill="#e41985"/>
<circle cx="1089.2" cy="472.5" r="7.9" fill="#fe1450"/>
<circle cx="1087.3" cy="497.6" r="7.9" fill="#7e248a"/>
<circle cx="1090.1" cy="512.5" r="7.9" fill="#442470"/>
<circle cx="1080.9" cy="515" r="7.9" fill="#ff1a1e"/>
<circle cx="986.1" cy="530.9" r="7.9" fill="#ff1a1e"/>
<circle cx="1083.4" cy="566.1" r="7.9" fill="#ff1928"/>
<circle cx="1064.4" cy="576.1" r="7.9" fill="#ff1541"/>
<circle cx="1047.9" cy="588.1" r="7.9" fill="#302165"/>
<circle cx="937" cy="468.5" r="7.9" fill="#ff1928"/>
<circle cx="895.3" cy="563.4" r="7.9" fill="#f6126b"/>
<circle cx="848.6" cy="663.9" r="7.9" fill="#ff1928"/>
<circle cx="905.1" cy="764.1" r="7.9" fill="#ff182d"/>
<circle cx="1046.7" cy="609.1" r="7.9" fill="#ff182d"/>
<circle cx="1055.8" cy="619.1" r="7.9" fill="#1f1d5a"/>
<circle cx="1038.1" cy="634.4" r="7.9" fill="#0a1e3b"/>
<circle cx="1047.9" cy="629.8" r="7.9" fill="#c43092"/>
<circle cx="1035" cy="657.1" r="7.9" fill="#ff182d"/>
<circle cx="1042.7" cy="660.1" r="7.9" fill="#f6126b"/>
<circle cx="1062" cy="699.9" r="7.9" fill="#442470"/>
<circle cx="1057.1" cy="713.6" r="7.9" fill="#020809"/>
<circle cx="1054.9" cy="733.5" r="7.9" fill="#ff1a1e"/>
<circle cx="1114.6" cy="727.1" r="7.9" fill="#ff1a1e"/>
<circle cx="1055.8" cy="754.3" r="7.9" fill="#96278e"/>
<circle cx="1103.9" cy="780.9" r="7.9" fill="#ff182d"/>
<circle cx="1079.4" cy="794.1" r="7.9" fill="#ff1928"/>
<circle cx="1084.9" cy="807.8" r="7.9" fill="#d8218a"/>
<circle cx="1237.7" cy="834.2" r="7.9" fill="#ff1a1e"/>
<circle cx="1196.9" cy="847.7" r="7.9" fill="#ff1546"/>
<circle cx="1219.9" cy="861" r="7.9" fill="#ff1a1e"/>
<circle cx="1184.2" cy="872.7" r="7.9" fill="#ff1541"/>
<circle cx="1229.3" cy="887.7" r="7.9" fill="#ff1a1e"/>
<circle cx="1175.3" cy="900.5" r="7.9" fill="#37236a"/>
<circle cx="1195.6" cy="898.4" r="7.9" fill="#ec1382"/>
<circle cx="1175.3" cy="927.7" r="7.9" fill="#ff1a1e"/>
<circle cx="1175.3" cy="955" r="7.9" fill="#cc2a8f"/>
<circle cx="1175.3" cy="981.3" r="7.9" fill="#ff1a1e"/>
<circle cx="1177.3" cy="995.3" r="7.9" fill="#cc2a8f"/>
<circle cx="1177.3" cy="1017.7" r="7.9" fill="#7e248a"/>
<circle cx="1177.3" cy="1010.1" r="7.9" fill="#000000"/>
<circle cx="1170.2" cy="1033.8" r="7.9" fill="#000000"/>
<circle cx="1179.8" cy="1035.3" r="7.9" fill="#ff1737"/>
<circle cx="1177.3" cy="1073.9" r="7.9" fill="#ec1382"/>
<circle cx="1174.8" cy="1085.9" r="7.9" fill="#7e248a"/>
<circle cx="1181.1" cy="1115.7" r="7.9" fill="#f6126b"/>
<circle cx="1174.5" cy="1124.1" r="7.9" fill="#37236a"/>
<circle cx="1178.6" cy="1138.1" r="7.9" fill="#f6126b"/>
<circle cx="1173.5" cy="1150.9" r="7.9" fill="#131d4c"/>
<circle cx="1173.5" cy="1173.3" r="7.9" fill="#f6126b"/>
<circle cx="1171.9" cy="1194.9" r="7.9" fill="#ff1a1e"/>
<circle cx="1068.7" cy="1269.9" r="7.9" fill="#000000"/>
<circle cx="1205.8" cy="1246.4" r="7.9" fill="#ff182d"/>
<circle cx="1213" cy="1236.2" r="7.9" fill="#ff1a1e"/>
<circle cx="1201.3" cy="1258.4" r="7.9" fill="#f6126b"/>
<circle cx="1200" cy="1274.5" r="7.9" fill="#ff182d"/>
<circle cx="1201.3" cy="1290.4" r="7.9" fill="#61247d"/>
<circle cx="1186.7" cy="1310.8" r="7.9" fill="#ff1a1e"/>
<circle cx="1218.6" cy="1330.4" r="7.9" fill="#ff1a1e"/>
<circle cx="1223.7" cy="1317.1" r="7.9" fill="#96278e"/>
<circle cx="1221.1" cy="1344.7" r="7.9" fill="#131d4c"/>
<circle cx="1205.8" cy="1347.2" r="7.9" fill="#ff1a1e"/>
<circle cx="1058.5" cy="1330.4" r="7.9" fill="#ad2c90"/>
<circle cx="1137.5" cy="1343.9" r="7.9" fill="#ff1a1e"/>
<circle cx="1130.2" cy="1423.7" r="7.9" fill="#f6126b"/>
<circle cx="1131.9" cy="1435.6" r="7.9" fill="#fe1450"/>
<circle cx="1126.1" cy="1441.3" r="7.9" fill="#ff1a1e"/>
<circle cx="1087.6" cy="1478.5" r="7.9" fill="#ff1a1e"/>
<circle cx="1019.8" cy="1386" r="7.9" fill="#ff1a1e"/>
<circle cx="830.2" cy="1437.3" r="7.9" fill="#8d268d"/>
<circle cx="792.1" cy="1484.8" r="7.9" fill="#051416"/>
<circle cx="915.1" cy="1488.2" r="7.9" fill="#ff1a1e"/>
<circle cx="993.1" cy="1518.4" r="7.9" fill="#ff1546"/>
<circle cx="977.2" cy="1546.1" r="7.9" fill="#041112"/>
<circle cx="971" cy="1531.6" r="7.9" fill="#ff1a1e"/>
<circle cx="735.6" cy="1563.4" r="7.9" fill="#ff1a1e"/>
<circle cx="1092.1" cy="1571.8" r="7.9" fill="#ff1a1e"/>
<circle cx="1040.2" cy="1593.9" r="7.9" fill="#061d31"/>
<circle cx="1042.9" cy="1581.5" r="7.9" fill="#1f1d5a"/>
<circle cx="1038.3" cy="1610.2" r="7.9" fill="#051416"/>
<circle cx="1035.2" cy="1631.5" r="7.9" fill="#f91260"/>
<circle cx="1063.9" cy="1625.3" r="7.9" fill="#f91260"/>
<circle cx="1026.3" cy="1652" r="7.9" fill="#030d0f"/>
<circle cx="1042.2" cy="1652" r="7.9" fill="#051416"/>
<circle cx="1001.9" cy="1672.5" r="7.9" fill="#ff1a1e"/>
<circle cx="1059.6" cy="1693.1" r="7.9" fill="#ff1a1e"/>
<circle cx="1051.5" cy="1719.4" r="7.9" fill="#fe1450"/>
<circle cx="1039.4" cy="1729.1" r="7.9" fill="#1f1d5a"/>
<circle cx="1027.4" cy="1741.1" r="7.9" fill="#ad2c90"/>
<circle cx="1017" cy="1753.9" r="7.9" fill="#ff1a1e"/>
<circle cx="954.2" cy="1770.5" r="7.9" fill="#ff1a1e"/>
<circle cx="1005.7" cy="1786.8" r="7.9" fill="#ff1a1e"/>
<circle cx="1010" cy="1813.2" r="7.9" fill="#fe1450"/>
<circle cx="985.2" cy="1836" r="7.9" fill="#d8218a"/>
<circle cx="990.6" cy="1823.6" r="7.9" fill="#d8218a"/>
<circle cx="977.5" cy="1848" r="7.9" fill="#ec1382"/>
<circle cx="970.1" cy="1868.9" r="7.9" fill="#cc2a8f"/>
<circle cx="977.5" cy="1890.2" r="7.9" fill="#f6126b"/>
<circle cx="980.2" cy="1880.6" r="7.9" fill="#051416"/>
<circle cx="964.7" cy="1894.9" r="7.9" fill="#ff1a1e"/>
<circle cx="877.8" cy="1721.3" r="7.9" fill="#ff1a1e"/>
<circle cx="836" cy="1808.3" r="7.9" fill="#ff1a1e"/>
<circle cx="665" cy="1917.2" r="7.9" fill="#ff1a1e"/>
<circle cx="771" cy="1949.2" r="7.9" fill="#f6126b"/>
<circle cx="980.3" cy="1920.3" r="7.9" fill="#f6126b"/>
<circle cx="753.7" cy="2052.4" r="7.9" fill="#f6126b"/>
<circle cx="969.1" cy="1961" r="7.9" fill="#041112"/>
<circle cx="1019.8" cy="1974.1" r="7.9" fill="#ff1a1e"/>
<circle cx="952.4" cy="1978" r="7.9" fill="#d8218a"/>
<circle cx="937.7" cy="1992.7" r="7.9" fill="#1f1d5a"/>
<circle cx="915.6" cy="2006.7" r="7.9" fill="#61247d"/>
<circle cx="901.3" cy="2021" r="7.9" fill="#ff1a1e"/>
<circle cx="850.9" cy="2038" r="7.9" fill="#fe1450"/>
<circle cx="830.8" cy="2056.2" r="7.9" fill="#ff1737"/>
<circle cx="898.2" cy="2055.1" r="7.9" fill="#fe1450"/>
<circle cx="804.4" cy="2091.1" r="7.9" fill="#ff1a1e"/>
<circle cx="1027.9" cy="2095" r="7.9" fill="#ff1a1e"/>
<circle cx="890.8" cy="2108.5" r="7.9" fill="#ff1a1e"/>
<circle cx="935.4" cy="2122.1" r="7.9" fill="#ff1737"/>
<circle cx="850.5" cy="2125.2" r="7.9" fill="#ff1a1e"/>
<circle cx="1113.4" cy="2176" r="7.9" fill="#ff1a1e"/>
<circle cx="1041.3" cy="2185.9" r="7.9" fill="#ff1a1e"/>
<circle cx="1003.8" cy="2197.3" r="7.9" fill="#ff1a1e"/>
<circle cx="921.4" cy="2209.9" r="7.9" fill="#ff1546"/>
<circle cx="890.4" cy="2231.5" r="7.9" fill="#ff1928"/>
<circle cx="1044.5" cy="2243" r="7.9" fill="#ff1a1e"/>
<circle cx="908" cy="2253.2" r="7.9" fill="#fe1450"/>
<circle cx="861.5" cy="2254" r="7.9" fill="#302165"/>
<circle cx="820.7" cy="2271.5" r="7.9" fill="#ff1a1e"/>
<circle cx="953.6" cy="2309.4" r="7.9" fill="#ff1a1e"/>
<circle cx="837.4" cy="2323.3" r="7.9" fill="#ff1a1e"/>
<circle cx="870.8" cy="2336.3" r="7.9" fill="#ad2c90"/>
<circle cx="738.7" cy="2339.6" r="7.9" fill="#ff1a1e"/>
<circle cx="1007" cy="2376.7" r="7.9" fill="#ff1a1e"/>
<circle cx="972" cy="2386.9" r="7.9" fill="#ff1a1e"/>
<circle cx="902.7" cy="2402" r="7.9" fill="#ff1a1e"/>
<circle cx="975.2" cy="2417.1" r="7.9" fill="#ff1a1e"/>
<circle cx="870.4" cy="2419.5" r="7.9" fill="#0f1d45"/>
<circle cx="597.2" cy="2129" r="7.9" fill="#ff1a1e"/>
<circle cx="851.7" cy="2449.3" r="7.9" fill="#f6126b"/>
<circle cx="944.6" cy="2456.3" r="7.9" fill="#ff1a1e"/>
<circle cx="940.6" cy="2466.1" r="7.9" fill="#010304"/>
<circle cx="937.3" cy="2479.5" r="7.9" fill="#ff1a1e"/>
<circle cx="825.6" cy="2508.9" r="7.9" fill="#8d268d"/>
<circle cx="965.4" cy="2509.3" r="7.9" fill="#fe1450"/>
<circle cx="959.3" cy="2520.7" r="7.9" fill="#fe1450"/>
<circle cx="950.8" cy="2536.2" r="7.9" fill="#d8218a"/>
<circle cx="942.6" cy="2553.3" r="7.9" fill="#ff1a1e"/>
<circle cx="973.2" cy="2551.7" r="7.9" fill="#ff1a1e"/>
<circle cx="804.4" cy="2553.3" r="7.9" fill="#bb2e91"/>
<circle cx="881.9" cy="2568.8" r="7.9" fill="#ff1a1e"/>
<circle cx="773.4" cy="2585.9" r="7.9" fill="#ff1a1e"/>
<circle cx="740.8" cy="2615.3" r="7.9" fill="#ff1a1e"/>
<circle cx="799.5" cy="2618.1" r="7.9" fill="#302165"/>
<circle cx="778.7" cy="2645.1" r="7.9" fill="#ff1a1e"/>
<circle cx="705.7" cy="2654.4" r="7.9" fill="#ff1a1e"/>
<circle cx="883.1" cy="2671.6" r="7.9" fill="#ff1a1e"/>
<circle cx="790.5" cy="2681.3" r="7.9" fill="#302165"/>
<circle cx="774.6" cy="2692.8" r="7.9" fill="#ff1a1e"/>
<circle cx="1022.1" cy="2735.8" r="7.9" fill="#ff1a1e"/>
<circle cx="1026" cy="2725.1" r="7.9" fill="#f6126b"/>
<circle cx="884.1" cy="2747.6" r="7.9" fill="#8d268d"/>
<circle cx="870.4" cy="2760.3" r="7.9" fill="#0a1e3b"/>
<circle cx="862.1" cy="2776.5" r="7.9" fill="#ff1a1e"/>
<circle cx="890" cy="2792.1" r="7.9" fill="#ff1a1e"/>
<circle cx="816.6" cy="2794.1" r="7.9" fill="#ff1a1e"/>
<circle cx="745.6" cy="2810.2" r="7.9" fill="#ff1a1e"/>
<circle cx="707.5" cy="2853.8" r="7.9" fill="#ff1a1e"/>
<circle cx="917.9" cy="2845.9" r="7.9" fill="#d8218a"/>
<circle cx="900.2" cy="2856.7" r="7.9" fill="#ff1a1e"/>
<circle cx="842" cy="2868" r="7.9" fill="#1f1d5a"/>
<circle cx="786.7" cy="2880.7" r="7.9" fill="#cc2a8f"/>
<circle cx="745.6" cy="2896.8" r="7.9" fill="#fe1450"/>
<circle cx="773" cy="2913" r="7.9" fill="#302165"/>
<circle cx="843.5" cy="2940.4" r="7.9" fill="#ff1a1e"/>
<circle cx="787.7" cy="2950.2" r="7.9" fill="#d8218a"/>
<circle cx="489.1" cy="2602.7" r="7.9" fill="#ff1a1e"/>
<circle cx="632.6" cy="2754.4" r="7.9" fill="#292061"/>
<circle cx="606.2" cy="2879.7" r="7.9" fill="#ff1a1e"/>
<circle cx="569.6" cy="2999.7" r="7.9" fill="#ff1a1e"/>
<circle cx="713.2" cy="3004.3" r="7.9" fill="#ff1a1e"/>
<circle cx="775.4" cy="2962.1" r="7.9" fill="#ff1a1e"/>
<circle cx="733.8" cy="2977.7" r="7.9" fill="#292061"/>
<circle cx="772" cy="2993.9" r="7.9" fill="#fe1450"/>
<circle cx="893.3" cy="3020.3" r="7.9" fill="#ff1a1e"/>
<circle cx="753.9" cy="3030.6" r="7.9" fill="#61247d"/>
<circle cx="829.7" cy="3060.9" r="7.9" fill="#442470"/>
<circle cx="814.6" cy="3071.2" r="7.9" fill="#f6126b"/>
<circle cx="779.8" cy="3085.9" r="7.9" fill="#ff1a1e"/>
<circle cx="871.3" cy="3101" r="7.9" fill="#ff1a1e"/>
<circle cx="728.4" cy="3103.5" r="7.9" fill="#fe1450"/>
<circle cx="688.8" cy="3119.1" r="7.9" fill="#ff1a1e"/>
<circle cx="822.7" cy="3191.3" r="7.9" fill="#ff1546"/>
<circle cx="821.8" cy="3207.2" r="7.9" fill="#ff1a1e"/>
<circle cx="821.8" cy="3224.3" r="7.9" fill="#ff1a1e"/>
<circle cx="821.8" cy="3243.3" r="7.9" fill="#ff1546"/>
<circle cx="820.6" cy="3262.5" r="7.9" fill="#000000"/>
<circle cx="820.6" cy="3279.1" r="7.9" fill="#442470"/>
<circle cx="820.6" cy="3293.7" r="7.9" fill="#1f1d5a"/>
<circle cx="819.6" cy="3308.4" r="7.9" fill="#ff1546"/>
<circle cx="893" cy="3353.4" r="7.9" fill="#ff1a1e"/>
<circle cx="893" cy="3342" r="7.9" fill="#c43092"/>
<circle cx="862.1" cy="3367.7" r="7.9" fill="#ff1a1e"/>
<circle cx="871.6" cy="3383" r="7.9" fill="#ff1a1e"/>
<circle cx="815.7" cy="3361.6" r="7.9" fill="#e41985"/>
<circle cx="819" cy="3384.9" r="7.9" fill="#e41985"/>
<circle cx="816.6" cy="3400.8" r="7.9" fill="#e41985"/>
<circle cx="815" cy="3416.7" r="7.9" fill="#cc2a8f"/>
<circle cx="819.9" cy="3449" r="7.9" fill="#ff1546"/>
<circle cx="817.4" cy="3459.7" r="7.9" fill="#d8218a"/>
<circle cx="816.5" cy="3475.3" r="7.9" fill="#f6126b"/>
<circle cx="816.5" cy="3490.2" r="7.9" fill="#d8218a"/>
<circle cx="842.2" cy="3540.1" r="7.9" fill="#f6126b"/>
<circle cx="845" cy="3529.7" r="7.9" fill="#bb2e91"/>
<circle cx="841.9" cy="3555.4" r="7.9" fill="#6d2482"/>
<circle cx="839.1" cy="3576.8" r="7.9" fill="#ff1546"/>
<circle cx="847.7" cy="3570.7" r="7.9" fill="#f6126b"/>
<circle cx="843.7" cy="3597.3" r="7.9" fill="#131d4c"/>
<circle cx="835.5" cy="3596.7" r="7.9" fill="#ff1a1e"/>
<circle cx="828.4" cy="3617.2" r="7.9" fill="#fe1450"/>
<circle cx="824.8" cy="3640.4" r="7.9" fill="#7e248a"/>
<circle cx="835.2" cy="3638" r="7.9" fill="#ff1a1e"/>
<circle cx="821.7" cy="3662.4" r="7.9" fill="#d8218a"/>
<circle cx="830.6" cy="3664.3" r="7.9" fill="#ff1a1e"/>
<circle cx="821.4" cy="3680.2" r="7.9" fill="#fe1450"/>
<circle cx="819" cy="3696.1" r="7.9" fill="#ff1928"/>
<circle cx="818.3" cy="3710.7" r="7.9" fill="#ec1382"/>
<circle cx="807" cy="3723.6" r="7.9" fill="#442470"/>
<circle cx="802.4" cy="3594.5" r="7.9" fill="#ff1a1e"/>
<circle cx="743.7" cy="3704.6" r="7.9" fill="#ff1a1e"/>
<circle cx="861.5" cy="3768.8" r="7.9" fill="#cc2a8f"/>
<circle cx="869.7" cy="3758.1" r="7.9" fill="#f6126b"/>
<circle cx="853.8" cy="3782.9" r="7.9" fill="#ff1a1e"/>
<circle cx="863.3" cy="3798.2" r="7.9" fill="#131d4c"/>
<circle cx="822.3" cy="3815.3" r="7.9" fill="#ff1a1e"/>
<circle cx="847.7" cy="3823.9" r="7.9" fill="#131d4c"/>
<circle cx="839.8" cy="3848.3" r="7.9" fill="#ff1737"/>
<circle cx="842.8" cy="3835.2" r="7.9" fill="#ec1382"/>
<circle cx="778" cy="3932.4" r="7.9" fill="#ff1546"/>
<circle cx="748.9" cy="3945.9" r="7.9" fill="#ff1a1e"/>
<circle cx="789" cy="3959.3" r="7.9" fill="#ff1a1e"/>
<circle cx="520.9" cy="3077.5" r="7.9" fill="#8d268d"/>
<circle cx="596.4" cy="3154.9" r="7.9" fill="#ff1737"/>
<circle cx="425.2" cy="3379.6" r="7.9" fill="#ff1546"/>
<circle cx="657.4" cy="3788.5" r="7.9" fill="#ff1a1e"/>
<circle cx="564.5" cy="3845.5" r="7.9" fill="#ff1737"/>
<circle cx="504.1" cy="3894.9" r="7.9" fill="#0a1e3b"/>
<circle cx="698.2" cy="3892" r="7.9" fill="#442470"/>
<circle cx="631.3" cy="3902.6" r="7.9" fill="#ff1546"/>
<circle cx="357.3" cy="3947.9" r="7.9" fill="#fe1450"/>
<circle cx="481.7" cy="4155.8" r="7.9" fill="#ff1a1e"/>
<circle cx="812.8" cy="3997.4" r="7.9" fill="#fe1450"/>
<circle cx="815.5" cy="3986.1" r="7.9" fill="#8d268d"/>
<circle cx="808.2" cy="4008.1" r="7.9" fill="#f6126b"/>
<circle cx="805.1" cy="4029.5" r="7.9" fill="#ff1a1e"/>
<circle cx="866.3" cy="4039.9" r="7.9" fill="#ff1a1e"/>
<circle cx="803.6" cy="4050.9" r="7.9" fill="#ff1546"/>
<circle cx="810.3" cy="4050" r="7.9" fill="#ec1382"/>
<circle cx="800.9" cy="4072.3" r="7.9" fill="#ff1546"/>
<circle cx="801.5" cy="4093.7" r="7.9" fill="#020809"/>
<circle cx="795.4" cy="4133.5" r="7.9" fill="#ff1546"/>
<circle cx="796.9" cy="4120" r="7.9" fill="#e41985"/>
<circle cx="800.6" cy="4147.2" r="7.9" fill="#fe1450"/>
<circle cx="781" cy="4133.2" r="7.9" fill="#ff1a1e"/>
<circle cx="792.9" cy="4150.9" r="7.9" fill="#fe1450"/>
<circle cx="791.4" cy="4165.9" r="7.9" fill="#161c53"/>
<circle cx="790.8" cy="4180" r="7.9" fill="#ff1546"/>
<circle cx="783.7" cy="4193.7" r="7.9" fill="#05171e"/>
<circle cx="831.7" cy="4227.4" r="7.9" fill="#ec1382"/>
<circle cx="823.5" cy="4240.5" r="7.9" fill="#fe1450"/>
<circle cx="825" cy="4254.5" r="7.9" fill="#061d31"/>
<circle cx="812.8" cy="4260.9" r="7.9" fill="#cc2a8f"/>
<circle cx="809.7" cy="4281.4" r="7.9" fill="#d8218a"/>
<circle cx="805.1" cy="4310.1" r="7.9" fill="#ff1a1e"/>
<circle cx="806.7" cy="4329.4" r="7.9" fill="#c43092"/>
<circle cx="806.7" cy="4320.8" r="7.9" fill="#000000"/>
<circle cx="792" cy="4340.1" r="7.9" fill="#9f298f"/>
<circle cx="805.4" cy="4343.5" r="7.9" fill="#ec1382"/>
<circle cx="791.4" cy="4360.9" r="7.9" fill="#302165"/>
<circle cx="788.9" cy="4378.6" r="7.9" fill="#7e248a"/>
<circle cx="781" cy="4393.6" r="7.9" fill="#c43092"/>
<circle cx="772.4" cy="4408" r="7.9" fill="#ff1a1e"/>
<circle cx="759.6" cy="4270.4" r="7.9" fill="#f6126b"/>
<circle cx="732" cy="4353.2" r="7.9" fill="#cc2a8f"/>
<circle cx="714.6" cy="4417.2" r="7.9" fill="#ff1a1e"/>
<circle cx="913.7" cy="4455.7" r="7.9" fill="#ff1a1e"/>
<circle cx="749.5" cy="4465.8" r="7.9" fill="#0a1e3b"/>
<circle cx="733.3" cy="4480.5" r="7.9" fill="#302165"/>
<circle cx="753.5" cy="4495.7" r="7.9" fill="#fe1450"/>
<circle cx="671.8" cy="4535.9" r="7.9" fill="#ff1a1e"/>
<circle cx="639.2" cy="4545.6" r="7.9" fill="#cc2a8f"/>
<circle cx="616.4" cy="4566.1" r="7.9" fill="#cc2a8f"/>
<circle cx="734.9" cy="4576.5" r="7.9" fill="#ff1a1e"/>
<circle cx="670.8" cy="4586.5" r="7.9" fill="#ff1a1e"/>
<circle cx="581.4" cy="4588.2" r="7.9" fill="#ff1a1e"/>
<circle cx="774.1" cy="1074.1" r="7.9" fill="#ff1a1e"/>
</g>
<g id="dash" stroke="#000" stroke-width="2.2" stroke-dasharray="5.2 2" fill="none">
<path d="M1132.9 63.1L1267.5 63.1M1068.7 184.2L1267.5 184.2M1054.9 304.7L1267.5 304.7M1094.7 465.7L1267.5 465.7M1094.7 479.2L1267.5 479.2M1094.7 506.1L1267.5 506.1M1097.7 533L1267.5 533M1119.1 546.2L1267.5 546.2M1102.3 599.1L1267.5 599.1M1101.7 599.9L1267.5 599.9M1236.4 868.1L1264.5 868.1M1233.9 881.9L1264.5 881.9M1233.9 894.9L1264.5 894.9M1203.3 908.1L1264.5 908.1M1185.5 927.2L1264.5 927.2M1188 988.4L1265.7 988.4M1188 1042.4L1263.2 1042.4M1265 836.8L1265 957.8M1182.9 1096.1L1267 1096.1M1198.2 1109.3L1267 1109.3M1198.2 1122.8L1267 1122.8M1188 1156.7L1258.1 1156.7M1232.6 1229.9L1264.5 1229.9M1228.8 1243.4L1264.5 1243.4M1226.2 1257.1L1264.5 1257.1M1218.6 1270.6L1264.5 1270.6M1208.4 1283.9L1264.5 1283.9M1265 1204.4L1265 1290M1208.4 1283.3L1264.5 1283.3M1195.6 1390.3L1264.5 1390.3M1131.9 1403.8L1264.5 1403.8M1137 1417.3L1264.5 1417.3M1139.6 1431.1L1264.5 1431.1M1131.9 1444.6L1264.5 1444.6M1129.4 1458.1L1264.5 1458.1M1040.2 1511.6L1264.5 1511.6M1265 1270L1265 1300.6M1265 1331.2L1265 1494.3M1265 1510.8L1265 1527.4M1040.6 1510.8L1060 1510.8M1116.9 1578.8L1266.8 1578.8M1062.7 1659L1266.8 1659M1116.9 1699.3L1266.8 1699.3M1058 1833.3L1266.8 1833.3M1023.2 1900.3L1266.8 1900.3M914.4 2946.7L1267.2 2946.7M822.7 3174.5L1264 3174.5M822.1 3188.5L1264 3188.5M830.3 3202L1264 3202M830.3 3215.1L1264 3215.1M821.2 3282.4L1264 3282.4M819.9 3309.3L1264 3309.3M825.7 3322.8L1264 3322.8M824.2 3416.7L1264 3416.7M824.2 3443.6L1264 3443.6M825.4 3483.5L1266.7 3483.5M825.4 3710.7L1266.7 3710.7M785.6 3926.3L1266.7 3926.3M838.8 4247.2L1266.9 4247.2M1264.5 3156L1264.5 3250M1264.5 3280L1264.5 3341"/>
</g>
<g id="rdash" stroke="#000" stroke-width="2.2" stroke-dasharray="5.2 2" fill="none">
<path d="M1400.6 61.5L1567 61.5M1400.6 183.5L1567 183.5M1400.6 304L1567 304M1400.6 439L1567 439M1379.8 465.5L1567 465.5M1379.8 498L1567 498M1379.8 523.5L1567 523.5M1400.6 556L1567 556M1400.6 597L1567 597M1400.6 840.5L1567 840.5M1385.8 868.5L1567 868.5M1400.6 898L1567 898M1359 928.5L1567 928.5M1400.6 957L1567 957M1400.6 988L1567 988M1379.8 1040L1567 1040M1385.8 1078.5L1567 1078.5M1379.8 1100L1567 1100M1400.6 1130L1567 1130M1400.6 1159.5L1567 1159.5M1382.8 1204.5L1567 1204.5M1382.8 1237L1567 1237M1400.6 1269.5L1567 1269.5M1400.6 1303.5L1567 1303.5M1338.2 1334L1567 1334M1532.7 1363.5L1567 1363.5M1551.1 1390.5L1567 1390.5M1379.8 1421.5L1567 1421.5M1517.4 1483L1567 1483M1400.6 1524.5L1567 1524.5M1400.6 1579L1567 1579M1400.6 1660L1567 1660M1400.6 1698.5L1567 1698.5M1384.8 1832.5L1567 1832.5M1406.6 1900.5L1540 1900.5M1400.6 2945.5L1562 2945.5M1379.8 3158.5L1567 3158.5M1379.8 3187.5L1567 3187.5M1379.8 3216L1567 3216M1379.8 3249L1567 3249M1379.8 3282L1567 3282M1379.8 3310L1567 3310M1346.2 3339.5L1567 3339.5M1400.6 3415.5L1567 3415.5M1379.8 3444L1567 3444M1379.8 3483L1567 3483M1400.6 3711L1567 3711M1379.8 3926.5L1567 3926.5M1384.8 4247.5L1567 4247.5"/>
</g>
<g id="elltxt">
<text class="cl" transform="translate(1158.9 1441.3) scale(0.892 1)">Alpha</text>
<text class="cl" transform="translate(1166.0 2054.9) scale(0.917 1)">Beta</text>
<text class="cl" transform="translate(1253.5 2231.7) scale(0.926 1)">Lenti</text>
<text class="cl" transform="translate(1088.0 2339.8) scale(0.930 1)">Delta</text>
<text class="cl" transform="translate(1175.1 2639.2) scale(0.927 1)">Gamma</text>
<text class="cl" transform="translate(938.4 3167.0) scale(0.933 1)">Epsilon</text>
<text class="cl" transform="translate(1075.9 3124.3) scale(0.919 1)">Gamma</text>
<text class="cl" transform="translate(978.7 3886.8) scale(0.931 1)">HERVS/L-like</text>
<text class="cl" transform="translate(911.1 4525.5) scale(0.932 1)">SnRV-like</text>
<text class="cl" transform="translate(1072.7 4578.0) scale(0.910 1)">Spuma</text>
<text class="cl" transform="translate(907.1 4642.7) scale(0.905 1)">Gypsy</text>
</g>
<g id="labels">
<text class="lab" transform="translate(1269.0 69.8) scale(0.997 1)">gg1028</text>
<polygon points="1587.5,50.8 1590.4,58.0 1598.2,58.5 1592.2,63.5 1594.1,71.1 1587.5,66.9 1580.9,71.1 1582.8,63.5 1576.8,58.5 1584.6,58.0" fill="#dcdcdc" stroke="#000" stroke-width="2.6" stroke-linejoin="miter"/>
<polygon points="1613.1,50.8 1616.0,58.0 1623.8,58.5 1617.8,63.5 1619.7,71.1 1613.1,66.9 1606.5,71.1 1608.4,63.5 1602.4,58.5 1610.2,58.0" fill="#000" stroke="#000" stroke-width="2.6" stroke-linejoin="miter"/>
<text class="lab" transform="translate(1269.0 190.0) scale(1.021 1)">gg1131</text>
<circle cx="1587.5" cy="183.5" r="11.1" fill="#dcdcdc" stroke="#000" stroke-width="2.6"/>
<circle cx="1613.1" cy="183.5" r="11.1" fill="#000" stroke="#000" stroke-width="2.6"/>
<polygon points="1638.7,172.8 1641.6,180.0 1649.4,180.5 1643.4,185.5 1645.3,193.1 1638.7,188.9 1632.1,193.1 1634.0,185.5 1628.0,180.5 1635.8,180.0" fill="#dcdcdc" stroke="#000" stroke-width="2.6" stroke-linejoin="miter"/>
<polygon points="1664.3,172.8 1667.2,180.0 1675.0,180.5 1669.0,185.5 1670.9,193.1 1664.3,188.9 1657.7,193.1 1659.6,185.5 1653.6,180.5 1661.4,180.0" fill="#dcdcdc" stroke="#000" stroke-width="2.6" stroke-linejoin="miter"/>
<polygon points="1689.9,172.8 1692.8,180.0 1700.6,180.5 1694.6,185.5 1696.5,193.1 1689.9,188.9 1683.3,193.1 1685.2,185.5 1679.2,180.5 1687.0,180.0" fill="#000" stroke="#000" stroke-width="2.6" stroke-linejoin="miter"/>
<text class="lab" transform="translate(1269.0 310.9) scale(0.997 1)">gg1288</text>
<rect x="1576.4" y="292.9" width="22.2" height="22.2" fill="#000" stroke="#000" stroke-width="2.6"/>
<text class="lab" transform="translate(1269.0 453.8) scale(1.021 1)">gg1123</text>
<circle cx="1587.5" cy="439.0" r="11.1" fill="#000" stroke="#000" stroke-width="2.6"/>
<polygon points="1613.1,428.3 1616.0,435.5 1623.8,436.0 1617.8,441.0 1619.7,448.6 1613.1,444.4 1606.5,448.6 1608.4,441.0 1602.4,436.0 1610.2,435.5" fill="#dcdcdc" stroke="#000" stroke-width="2.6" stroke-linejoin="miter"/>
<polygon points="1638.7,428.3 1641.6,435.5 1649.4,436.0 1643.4,441.0 1645.3,448.6 1638.7,444.4 1632.1,448.6 1634.0,441.0 1628.0,436.0 1635.8,435.5" fill="#dcdcdc" stroke="#000" stroke-width="2.6" stroke-linejoin="miter"/>
<polygon points="1664.3,428.3 1667.2,435.5 1675.0,436.0 1669.0,441.0 1670.9,448.6 1664.3,444.4 1657.7,448.6 1659.6,441.0 1653.6,436.0 1661.4,435.5" fill="#dcdcdc" stroke="#000" stroke-width="2.6" stroke-linejoin="miter"/>
<text class="lab" transform="translate(1269.0 482.4) scale(1.008 1)">gg679</text>
<rect x="1576.4" y="454.4" width="22.2" height="22.2" fill="#000" stroke="#000" stroke-width="2.6"/>
<circle cx="1613.1" cy="465.5" r="11.1" fill="#dcdcdc" stroke="#000" stroke-width="2.6"/>
<text class="lab" transform="translate(1269.0 510.3) scale(1.008 1)">gg523</text>
<polygon points="1587.5,487.3 1590.4,494.5 1598.2,495.0 1592.2,500.0 1594.1,507.6 1587.5,503.4 1580.9,507.6 1582.8,500.0 1576.8,495.0 1584.6,494.5" fill="#dcdcdc" stroke="#000" stroke-width="2.6" stroke-linejoin="miter"/>
<text class="lab" transform="translate(1269.0 537.4) scale(1.008 1)">gg906</text>
<rect x="1576.4" y="512.4" width="22.2" height="22.2" fill="#000" stroke="#000" stroke-width="2.6"/>
<text class="lab" transform="translate(1269.0 568.0) scale(1.021 1)">gg1183</text>
<rect x="1576.4" y="541.9" width="22.2" height="22.2" fill="#000" stroke="#000" stroke-width="2.6"/>
<polygon points="1613.1,542.3 1616.0,549.5 1623.8,550.0 1617.8,555.0 1619.7,562.6 1613.1,558.4 1606.5,562.6 1608.4,555.0 1602.4,550.0 1610.2,549.5" fill="#dcdcdc" stroke="#000" stroke-width="2.6" stroke-linejoin="miter"/>
<polygon points="1638.7,542.3 1641.6,549.5 1649.4,550.0 1643.4,555.0 1645.3,562.6 1638.7,558.4 1632.1,562.6 1634.0,555.0 1628.0,550.0 1635.8,549.5" fill="#000" stroke="#000" stroke-width="2.6" stroke-linejoin="miter"/>
<text class="lab" transform="translate(1269.0 605.7) scale(0.997 1)">gg1065</text>
<rect x="1576.4" y="582.9" width="22.2" height="22.2" fill="#dcdcdc" stroke="#000" stroke-width="2.6"/>
<text class="lab" transform="translate(1269.0 850.8) scale(1.005 1)">gg1027</text>
<polygon points="1587.5,825.3 1590.4,832.5 1598.2,833.0 1592.2,838.0 1594.1,845.6 1587.5,841.4 1580.9,845.6 1582.8,838.0 1576.8,833.0 1584.6,832.5" fill="#dcdcdc" stroke="#000" stroke-width="2.6" stroke-linejoin="miter"/>
<text class="lab" transform="translate(1269.0 879.3) scale(1.008 1)">gg329</text>
<polygon points="1587.5,853.3 1590.4,860.5 1598.2,861.0 1592.2,866.0 1594.1,873.6 1587.5,869.4 1580.9,873.6 1582.8,866.0 1576.8,861.0 1584.6,860.5" fill="#dcdcdc" stroke="#000" stroke-width="2.6" stroke-linejoin="miter"/>
<text class="lab" transform="translate(1269.0 908.9) scale(0.997 1)">gg1074</text>
<circle cx="1587.5" cy="895.0" r="11.1" fill="#dcdcdc" stroke="#000" stroke-width="2.6"/>
<circle cx="1613.1" cy="895.0" r="11.1" fill="#dcdcdc" stroke="#000" stroke-width="2.6"/>
<polygon points="1638.7,884.3 1641.6,891.5 1649.4,892.0 1643.4,897.0 1645.3,904.6 1638.7,900.4 1632.1,904.6 1634.0,897.0 1628.0,892.0 1635.8,891.5" fill="#dcdcdc" stroke="#000" stroke-width="2.6" stroke-linejoin="miter"/>
<text class="lab" transform="translate(1269.0 940.0) scale(1.012 1)">gg66</text>
<rect x="1576.4" y="917.4" width="22.2" height="22.2" fill="#dcdcdc" stroke="#000" stroke-width="2.6"/>
<text class="lab" transform="translate(1269.0 969.0) scale(0.997 1)">gg1210</text>
<rect x="1576.4" y="945.9" width="22.2" height="22.2" fill="#dcdcdc" stroke="#000" stroke-width="2.6"/>
<text class="lab" transform="translate(1269.0 994.5) scale(1.021 1)">gg1167</text>
<polygon points="1587.5,977.3 1590.4,984.5 1598.2,985.0 1592.2,990.0 1594.1,997.6 1587.5,993.4 1580.9,997.6 1582.8,990.0 1576.8,985.0 1584.6,984.5" fill="#dcdcdc" stroke="#000" stroke-width="2.6" stroke-linejoin="miter"/>
<polygon points="1613.1,977.3 1616.0,984.5 1623.8,985.0 1617.8,990.0 1619.7,997.6 1613.1,993.4 1606.5,997.6 1608.4,990.0 1602.4,985.0 1610.2,984.5" fill="#dcdcdc" stroke="#000" stroke-width="2.6" stroke-linejoin="miter"/>
<text class="lab" transform="translate(1269.0 1048.3) scale(1.008 1)">gg157</text>
<rect x="1576.4" y="1028.9" width="22.2" height="22.2" fill="#000" stroke="#000" stroke-width="2.6"/>
<text class="lab" transform="translate(1269.0 1089.9) scale(1.008 1)">gg412</text>
<polygon points="1587.5,1067.8 1590.4,1075.0 1598.2,1075.5 1592.2,1080.5 1594.1,1088.1 1587.5,1083.9 1580.9,1088.1 1582.8,1080.5 1576.8,1075.5 1584.6,1075.0" fill="#dcdcdc" stroke="#000" stroke-width="2.6" stroke-linejoin="miter"/>
<text class="lab" transform="translate(1269.0 1116.0) scale(0.998 1)">gg104</text>
<polygon points="1587.5,1089.3 1590.4,1096.5 1598.2,1097.0 1592.2,1102.0 1594.1,1109.6 1587.5,1105.4 1580.9,1109.6 1582.8,1102.0 1576.8,1097.0 1584.6,1096.5" fill="#000" stroke="#000" stroke-width="2.6" stroke-linejoin="miter"/>
<text class="lab" transform="translate(1269.0 1142.5) scale(0.997 1)">gg1041</text>
<polygon points="1587.5,1119.3 1590.4,1126.5 1598.2,1127.0 1592.2,1132.0 1594.1,1139.6 1587.5,1135.4 1580.9,1139.6 1582.8,1132.0 1576.8,1127.0 1584.6,1126.5" fill="#dcdcdc" stroke="#000" stroke-width="2.6" stroke-linejoin="miter"/>
<text class="lab" transform="translate(1269.0 1174.1) scale(1.021 1)">gg1166</text>
<polygon points="1587.5,1148.8 1590.4,1156.0 1598.2,1156.5 1592.2,1161.5 1594.1,1169.1 1587.5,1164.9 1580.9,1169.1 1582.8,1161.5 1576.8,1156.5 1584.6,1156.0" fill="#000" stroke="#000" stroke-width="2.6" stroke-linejoin="miter"/>
<text class="lab" transform="translate(1269.0 1219.0) scale(0.998 1)">gg370</text>
<rect x="1576.4" y="1193.4" width="22.2" height="22.2" fill="#000" stroke="#000" stroke-width="2.6"/>
<circle cx="1613.1" cy="1204.5" r="11.1" fill="#000" stroke="#000" stroke-width="2.6"/>
<polygon points="1638.7,1193.8 1641.6,1201.0 1649.4,1201.5 1643.4,1206.5 1645.3,1214.1 1638.7,1209.9 1632.1,1214.1 1634.0,1206.5 1628.0,1201.5 1635.8,1201.0" fill="#dcdcdc" stroke="#000" stroke-width="2.6" stroke-linejoin="miter"/>
<text class="lab" transform="translate(1269.0 1249.5) scale(1.008 1)">gg958</text>
<polygon points="1587.5,1226.3 1590.4,1233.5 1598.2,1234.0 1592.2,1239.0 1594.1,1246.6 1587.5,1242.4 1580.9,1246.6 1582.8,1239.0 1576.8,1234.0 1584.6,1233.5" fill="#dcdcdc" stroke="#000" stroke-width="2.6" stroke-linejoin="miter"/>
<text class="lab" transform="translate(1269.0 1282.0) scale(0.997 1)">gg1320</text>
<rect x="1576.4" y="1254.9" width="22.2" height="22.2" fill="#dcdcdc" stroke="#000" stroke-width="2.6"/>
<rect x="1602.0" y="1254.9" width="22.2" height="22.2" fill="#000" stroke="#000" stroke-width="2.6"/>
<circle cx="1638.7" cy="1266.0" r="11.1" fill="#000" stroke="#000" stroke-width="2.6"/>
<text class="lab" transform="translate(1269.0 1312.5) scale(0.997 1)">gg1096</text>
<circle cx="1587.5" cy="1303.5" r="11.1" fill="#000" stroke="#000" stroke-width="2.6"/>
<text class="lab" transform="translate(1269.0 1340.9) scale(1.035 1)">gg3</text>
<rect x="1576.4" y="1322.9" width="22.2" height="22.2" fill="#000" stroke="#000" stroke-width="2.6"/>
<text class="lab" transform="translate(1271.0 1377.3) scale(1.019 1)">ALVA_M37980</text>
<polygon points="1587.5,1352.8 1590.4,1360.0 1598.2,1360.5 1592.2,1365.5 1594.1,1373.1 1587.5,1368.9 1580.9,1373.1 1582.8,1365.5 1576.8,1360.5 1584.6,1360.0" fill="#dcdcdc" stroke="#000" stroke-width="2.6" stroke-linejoin="miter"/>
<polygon points="1613.1,1352.8 1616.0,1360.0 1623.8,1360.5 1617.8,1365.5 1619.7,1373.1 1613.1,1368.9 1606.5,1373.1 1608.4,1365.5 1602.4,1360.5 1610.2,1360.0" fill="#000" stroke="#000" stroke-width="2.6" stroke-linejoin="miter"/>
<text class="lab" transform="translate(1271.0 1409.2) scale(1.004 1)">ALV_NC001408</text>
<circle cx="1587.5" cy="1390.5" r="11.1" fill="#dcdcdc" stroke="#000" stroke-width="2.6"/>
<text class="lab" transform="translate(1269.0 1438.0) scale(1.008 1)">gg156</text>
<circle cx="1587.5" cy="1421.5" r="11.1" fill="#dcdcdc" stroke="#000" stroke-width="2.6"/>
<polygon points="1613.1,1410.8 1616.0,1418.0 1623.8,1418.5 1617.8,1423.5 1619.7,1431.1 1613.1,1426.9 1606.5,1431.1 1608.4,1423.5 1602.4,1418.5 1610.2,1418.0" fill="#dcdcdc" stroke="#000" stroke-width="2.6" stroke-linejoin="miter"/>
<polygon points="1638.7,1410.8 1641.6,1418.0 1649.4,1418.5 1643.4,1423.5 1645.3,1431.1 1638.7,1426.9 1632.1,1431.1 1634.0,1423.5 1628.0,1418.5 1635.8,1418.0" fill="#000" stroke="#000" stroke-width="2.6" stroke-linejoin="miter"/>
<polygon points="1664.3,1410.8 1667.2,1418.0 1675.0,1418.5 1669.0,1423.5 1670.9,1431.1 1664.3,1426.9 1657.7,1431.1 1659.6,1423.5 1653.6,1418.5 1661.4,1418.0" fill="#000" stroke="#000" stroke-width="2.6" stroke-linejoin="miter"/>
<text class="lab" transform="translate(1271.0 1472.6) scale(1.005 1)">ALVE_FJ793550</text>
<circle cx="1587.5" cy="1449.0" r="11.1" fill="#dcdcdc" stroke="#000" stroke-width="2.6"/>
<text class="lab" transform="translate(1271.0 1506.3) scale(1.006 1)">ALVJ_Z46390</text>
<circle cx="1587.5" cy="1483.0" r="11.1" fill="#dcdcdc" stroke="#000" stroke-width="2.6"/>
<polygon points="1613.1,1472.3 1616.0,1479.5 1623.8,1480.0 1617.8,1485.0 1619.7,1492.6 1613.1,1488.4 1606.5,1492.6 1608.4,1485.0 1602.4,1480.0 1610.2,1479.5" fill="#dcdcdc" stroke="#000" stroke-width="2.6" stroke-linejoin="miter"/>
<polygon points="1638.7,1472.3 1641.6,1479.5 1649.4,1480.0 1643.4,1485.0 1645.3,1492.6 1638.7,1488.4 1632.1,1492.6 1634.0,1485.0 1628.0,1480.0 1635.8,1479.5" fill="#dcdcdc" stroke="#000" stroke-width="2.6" stroke-linejoin="miter"/>
<text class="lab" transform="translate(1269.0 1538.5) scale(1.021 1)">gg1120</text>
<rect x="1576.4" y="1513.4" width="22.2" height="22.2" fill="#000" stroke="#000" stroke-width="2.6"/>
<circle cx="1613.1" cy="1524.5" r="11.1" fill="#dcdcdc" stroke="#000" stroke-width="2.6"/>
<circle cx="1638.7" cy="1524.5" r="11.1" fill="#dcdcdc" stroke="#000" stroke-width="2.6"/>
<text class="lab" transform="translate(1269.0 1586.7) scale(1.005 1)">gg1282</text>
<rect x="1576.4" y="1567.9" width="22.2" height="22.2" fill="#dcdcdc" stroke="#000" stroke-width="2.6"/>
<circle cx="1613.1" cy="1579.0" r="11.1" fill="#000" stroke="#000" stroke-width="2.6"/>
<polygon points="1638.7,1568.3 1641.6,1575.5 1649.4,1576.0 1643.4,1581.0 1645.3,1588.6 1638.7,1584.4 1632.1,1588.6 1634.0,1581.0 1628.0,1576.0 1635.8,1575.5" fill="#dcdcdc" stroke="#000" stroke-width="2.6" stroke-linejoin="miter"/>
<polygon points="1664.3,1568.3 1667.2,1575.5 1675.0,1576.0 1669.0,1581.0 1670.9,1588.6 1664.3,1584.4 1657.7,1588.6 1659.6,1581.0 1653.6,1576.0 1661.4,1575.5" fill="#dcdcdc" stroke="#000" stroke-width="2.6" stroke-linejoin="miter"/>
<polygon points="1689.9,1568.3 1692.8,1575.5 1700.6,1576.0 1694.6,1581.0 1696.5,1588.6 1689.9,1584.4 1683.3,1588.6 1685.2,1581.0 1679.2,1576.0 1687.0,1575.5" fill="#000" stroke="#000" stroke-width="2.6" stroke-linejoin="miter"/>
<polygon points="1715.5,1568.3 1718.4,1575.5 1726.2,1576.0 1720.2,1581.0 1722.1,1588.6 1715.5,1584.4 1708.9,1588.6 1710.8,1581.0 1704.8,1576.0 1712.6,1575.5" fill="#000" stroke="#000" stroke-width="2.6" stroke-linejoin="miter"/>
<text class="lab" transform="translate(1269.0 1666.2) scale(0.997 1)">gg1054</text>
<circle cx="1587.5" cy="1660.0" r="11.1" fill="#dcdcdc" stroke="#000" stroke-width="2.6"/>
<text class="lab" transform="translate(1269.0 1707.8) scale(0.997 1)">gg1294</text>
<rect x="1576.4" y="1687.4" width="22.2" height="22.2" fill="#dcdcdc" stroke="#000" stroke-width="2.6"/>
<rect x="1602.0" y="1687.4" width="22.2" height="22.2" fill="#000" stroke="#000" stroke-width="2.6"/>
<circle cx="1638.7" cy="1698.5" r="11.1" fill="#dcdcdc" stroke="#000" stroke-width="2.6"/>
<polygon points="1664.3,1687.8 1667.2,1695.0 1675.0,1695.5 1669.0,1700.5 1670.9,1708.1 1664.3,1703.9 1657.7,1708.1 1659.6,1700.5 1653.6,1695.5 1661.4,1695.0" fill="#dcdcdc" stroke="#000" stroke-width="2.6" stroke-linejoin="miter"/>
<polygon points="1689.9,1687.8 1692.8,1695.0 1700.6,1695.5 1694.6,1700.5 1696.5,1708.1 1689.9,1703.9 1683.3,1708.1 1685.2,1700.5 1679.2,1695.5 1687.0,1695.0" fill="#dcdcdc" stroke="#000" stroke-width="2.6" stroke-linejoin="miter"/>
<text class="lab" transform="translate(1269.0 1840.5) scale(0.998 1)">gg964</text>
<circle cx="1587.5" cy="1832.5" r="11.1" fill="#000" stroke="#000" stroke-width="2.6"/>
<text class="lab" transform="translate(1269.0 1910.5) scale(0.997 1)">gg1233</text>
<polygon points="1587.5,1890.8 1590.4,1898.0 1598.2,1898.5 1592.2,1903.5 1594.1,1911.1 1587.5,1906.9 1580.9,1911.1 1582.8,1903.5 1576.8,1898.5 1584.6,1898.0" fill="#dcdcdc" stroke="#000" stroke-width="2.6" stroke-linejoin="miter"/>
<text class="lab" transform="translate(1269.0 2953.9) scale(1.005 1)">gg1212</text>
<polygon points="1587.5,2934.8 1590.4,2942.0 1598.2,2942.5 1592.2,2947.5 1594.1,2955.1 1587.5,2950.9 1580.9,2955.1 1582.8,2947.5 1576.8,2942.5 1584.6,2942.0" fill="#dcdcdc" stroke="#000" stroke-width="2.6" stroke-linejoin="miter"/>
<text class="lab" transform="translate(1269.0 3169.9) scale(1.008 1)">gg619</text>
<polygon points="1587.5,3144.3 1590.4,3151.5 1598.2,3152.0 1592.2,3157.0 1594.1,3164.6 1587.5,3160.4 1580.9,3164.6 1582.8,3157.0 1576.8,3152.0 1584.6,3151.5" fill="#dcdcdc" stroke="#000" stroke-width="2.6" stroke-linejoin="miter"/>
<polygon points="1613.1,3144.3 1616.0,3151.5 1623.8,3152.0 1617.8,3157.0 1619.7,3164.6 1613.1,3160.4 1606.5,3164.6 1608.4,3157.0 1602.4,3152.0 1610.2,3151.5" fill="#dcdcdc" stroke="#000" stroke-width="2.6" stroke-linejoin="miter"/>
<polygon points="1638.7,3144.3 1641.6,3151.5 1649.4,3152.0 1643.4,3157.0 1645.3,3164.6 1638.7,3160.4 1632.1,3164.6 1634.0,3157.0 1628.0,3152.0 1635.8,3151.5" fill="#dcdcdc" stroke="#000" stroke-width="2.6" stroke-linejoin="miter"/>
<polygon points="1664.3,3144.3 1667.2,3151.5 1675.0,3152.0 1669.0,3157.0 1670.9,3164.6 1664.3,3160.4 1657.7,3164.6 1659.6,3157.0 1653.6,3152.0 1661.4,3151.5" fill="#dcdcdc" stroke="#000" stroke-width="2.6" stroke-linejoin="miter"/>
<polygon points="1689.9,3144.3 1692.8,3151.5 1700.6,3152.0 1694.6,3157.0 1696.5,3164.6 1689.9,3160.4 1683.3,3164.6 1685.2,3157.0 1679.2,3152.0 1687.0,3151.5" fill="#000" stroke="#000" stroke-width="2.6" stroke-linejoin="miter"/>
<polygon points="1715.5,3144.3 1718.4,3151.5 1726.2,3152.0 1720.2,3157.0 1722.1,3164.6 1715.5,3160.4 1708.9,3164.6 1710.8,3157.0 1704.8,3152.0 1712.6,3151.5" fill="#000" stroke="#000" stroke-width="2.6" stroke-linejoin="miter"/>
<polygon points="1741.1,3144.3 1744.0,3151.5 1751.8,3152.0 1745.8,3157.0 1747.7,3164.6 1741.1,3160.4 1734.5,3164.6 1736.4,3157.0 1730.4,3152.0 1738.2,3151.5" fill="#000" stroke="#000" stroke-width="2.6" stroke-linejoin="miter"/>
<text class="lab" transform="translate(1269.0 3201.0) scale(1.008 1)">gg889</text>
<circle cx="1587.5" cy="3187.5" r="11.1" fill="#000" stroke="#000" stroke-width="2.6"/>
<polygon points="1613.1,3176.8 1616.0,3184.0 1623.8,3184.5 1617.8,3189.5 1619.7,3197.1 1613.1,3192.9 1606.5,3197.1 1608.4,3189.5 1602.4,3184.5 1610.2,3184.0" fill="#000" stroke="#000" stroke-width="2.6" stroke-linejoin="miter"/>
<text class="lab" transform="translate(1269.0 3228.8) scale(1.008 1)">gg377</text>
<circle cx="1587.5" cy="3216.0" r="11.1" fill="#dcdcdc" stroke="#000" stroke-width="2.6"/>
<polygon points="1613.1,3205.3 1616.0,3212.5 1623.8,3213.0 1617.8,3218.0 1619.7,3225.6 1613.1,3221.4 1606.5,3225.6 1608.4,3218.0 1602.4,3213.0 1610.2,3212.5" fill="#dcdcdc" stroke="#000" stroke-width="2.6" stroke-linejoin="miter"/>
<polygon points="1638.7,3205.3 1641.6,3212.5 1649.4,3213.0 1643.4,3218.0 1645.3,3225.6 1638.7,3221.4 1632.1,3225.6 1634.0,3218.0 1628.0,3213.0 1635.8,3212.5" fill="#dcdcdc" stroke="#000" stroke-width="2.6" stroke-linejoin="miter"/>
<polygon points="1664.3,3205.3 1667.2,3212.5 1675.0,3213.0 1669.0,3218.0 1670.9,3225.6 1664.3,3221.4 1657.7,3225.6 1659.6,3218.0 1653.6,3213.0 1661.4,3212.5" fill="#dcdcdc" stroke="#000" stroke-width="2.6" stroke-linejoin="miter"/>
<text class="lab" transform="translate(1269.0 3256.5) scale(1.008 1)">gg153</text>
<rect x="1576.4" y="3237.9" width="22.2" height="22.2" fill="#dcdcdc" stroke="#000" stroke-width="2.6"/>
<circle cx="1613.1" cy="3249.0" r="11.1" fill="#dcdcdc" stroke="#000" stroke-width="2.6"/>
<circle cx="1638.7" cy="3249.0" r="11.1" fill="#dcdcdc" stroke="#000" stroke-width="2.6"/>
<text class="lab" transform="translate(1269.0 3295.3) scale(1.008 1)">gg497</text>
<rect x="1576.4" y="3270.9" width="22.2" height="22.2" fill="#000" stroke="#000" stroke-width="2.6"/>
<circle cx="1613.1" cy="3282.0" r="11.1" fill="#dcdcdc" stroke="#000" stroke-width="2.6"/>
<polygon points="1638.7,3271.3 1641.6,3278.5 1649.4,3279.0 1643.4,3284.0 1645.3,3291.6 1638.7,3287.4 1632.1,3291.6 1634.0,3284.0 1628.0,3279.0 1635.8,3278.5" fill="#dcdcdc" stroke="#000" stroke-width="2.6" stroke-linejoin="miter"/>
<text class="lab" transform="translate(1269.0 3322.4) scale(1.008 1)">gg462</text>
<polygon points="1587.5,3299.3 1590.4,3306.5 1598.2,3307.0 1592.2,3312.0 1594.1,3319.6 1587.5,3315.4 1580.9,3319.6 1582.8,3312.0 1576.8,3307.0 1584.6,3306.5" fill="#dcdcdc" stroke="#000" stroke-width="2.6" stroke-linejoin="miter"/>
<polygon points="1613.1,3299.3 1616.0,3306.5 1623.8,3307.0 1617.8,3312.0 1619.7,3319.6 1613.1,3315.4 1606.5,3319.6 1608.4,3312.0 1602.4,3307.0 1610.2,3306.5" fill="#000" stroke="#000" stroke-width="2.6" stroke-linejoin="miter"/>
<polygon points="1638.7,3299.3 1641.6,3306.5 1649.4,3307.0 1643.4,3312.0 1645.3,3319.6 1638.7,3315.4 1632.1,3319.6 1634.0,3312.0 1628.0,3307.0 1635.8,3306.5" fill="#000" stroke="#000" stroke-width="2.6" stroke-linejoin="miter"/>
<text class="lab" transform="translate(1269.0 3351.1) scale(1.035 1)">gg1</text>
<polygon points="1587.5,3328.8 1590.4,3336.0 1598.2,3336.5 1592.2,3341.5 1594.1,3349.1 1587.5,3344.9 1580.9,3349.1 1582.8,3341.5 1576.8,3336.5 1584.6,3336.0" fill="#dcdcdc" stroke="#000" stroke-width="2.6" stroke-linejoin="miter"/>
<text class="lab" transform="translate(1269.0 3421.9) scale(0.997 1)">gg1280</text>
<rect x="1576.4" y="3404.4" width="22.2" height="22.2" fill="#dcdcdc" stroke="#000" stroke-width="2.6"/>
<rect x="1602.0" y="3404.4" width="22.2" height="22.2" fill="#dcdcdc" stroke="#000" stroke-width="2.6"/>
<text class="lab" transform="translate(1269.0 3453.4) scale(1.008 1)">gg971</text>
<polygon points="1587.5,3433.3 1590.4,3440.5 1598.2,3441.0 1592.2,3446.0 1594.1,3453.6 1587.5,3449.4 1580.9,3453.6 1582.8,3446.0 1576.8,3441.0 1584.6,3440.5" fill="#dcdcdc" stroke="#000" stroke-width="2.6" stroke-linejoin="miter"/>
<polygon points="1613.1,3433.3 1616.0,3440.5 1623.8,3441.0 1617.8,3446.0 1619.7,3453.6 1613.1,3449.4 1606.5,3453.6 1608.4,3446.0 1602.4,3441.0 1610.2,3440.5" fill="#dcdcdc" stroke="#000" stroke-width="2.6" stroke-linejoin="miter"/>
<text class="lab" transform="translate(1269.0 3488.8) scale(1.008 1)">gg428</text>
<polygon points="1587.5,3472.3 1590.4,3479.5 1598.2,3480.0 1592.2,3485.0 1594.1,3492.6 1587.5,3488.4 1580.9,3492.6 1582.8,3485.0 1576.8,3480.0 1584.6,3479.5" fill="#dcdcdc" stroke="#000" stroke-width="2.6" stroke-linejoin="miter"/>
<polygon points="1613.1,3472.3 1616.0,3479.5 1623.8,3480.0 1617.8,3485.0 1619.7,3492.6 1613.1,3488.4 1606.5,3492.6 1608.4,3485.0 1602.4,3480.0 1610.2,3479.5" fill="#dcdcdc" stroke="#000" stroke-width="2.6" stroke-linejoin="miter"/>
<polygon points="1638.7,3472.3 1641.6,3479.5 1649.4,3480.0 1643.4,3485.0 1645.3,3492.6 1638.7,3488.4 1632.1,3492.6 1634.0,3485.0 1628.0,3480.0 1635.8,3479.5" fill="#000" stroke="#000" stroke-width="2.6" stroke-linejoin="miter"/>
<text class="lab" transform="translate(1269.0 3718.5) scale(0.997 1)">gg1318</text>
<rect x="1576.4" y="3699.9" width="22.2" height="22.2" fill="#dcdcdc" stroke="#000" stroke-width="2.6"/>
<rect x="1602.0" y="3699.9" width="22.2" height="22.2" fill="#dcdcdc" stroke="#000" stroke-width="2.6"/>
<polygon points="1638.7,3700.3 1641.6,3707.5 1649.4,3708.0 1643.4,3713.0 1645.3,3720.6 1638.7,3716.4 1632.1,3720.6 1634.0,3713.0 1628.0,3708.0 1635.8,3707.5" fill="#dcdcdc" stroke="#000" stroke-width="2.6" stroke-linejoin="miter"/>
<text class="lab" transform="translate(1269.0 3932.6) scale(1.008 1)">gg382</text>
<circle cx="1587.5" cy="3926.5" r="11.1" fill="#dcdcdc" stroke="#000" stroke-width="2.6"/>
<circle cx="1613.1" cy="3926.5" r="11.1" fill="#dcdcdc" stroke="#000" stroke-width="2.6"/>
<polygon points="1638.7,3915.8 1641.6,3923.0 1649.4,3923.5 1643.4,3928.5 1645.3,3936.1 1638.7,3931.9 1632.1,3936.1 1634.0,3928.5 1628.0,3923.5 1635.8,3923.0" fill="#dcdcdc" stroke="#000" stroke-width="2.6" stroke-linejoin="miter"/>
<polygon points="1664.3,3915.8 1667.2,3923.0 1675.0,3923.5 1669.0,3928.5 1670.9,3936.1 1664.3,3931.9 1657.7,3936.1 1659.6,3928.5 1653.6,3923.5 1661.4,3923.0" fill="#dcdcdc" stroke="#000" stroke-width="2.6" stroke-linejoin="miter"/>
<polygon points="1689.9,3915.8 1692.8,3923.0 1700.6,3923.5 1694.6,3928.5 1696.5,3936.1 1689.9,3931.9 1683.3,3936.1 1685.2,3928.5 1679.2,3923.5 1687.0,3923.0" fill="#000" stroke="#000" stroke-width="2.6" stroke-linejoin="miter"/>
<polygon points="1715.5,3915.8 1718.4,3923.0 1726.2,3923.5 1720.2,3928.5 1722.1,3936.1 1715.5,3931.9 1708.9,3936.1 1710.8,3928.5 1704.8,3923.5 1712.6,3923.0" fill="#000" stroke="#000" stroke-width="2.6" stroke-linejoin="miter"/>
<text class="lab" transform="translate(1269.0 4254.3) scale(1.008 1)">gg413</text>
<circle cx="1587.5" cy="4247.5" r="11.1" fill="#dcdcdc" stroke="#000" stroke-width="2.6"/>
<circle cx="1613.1" cy="4247.5" r="11.1" fill="#000" stroke="#000" stroke-width="2.6"/>
</g>
</svg></body></html>
